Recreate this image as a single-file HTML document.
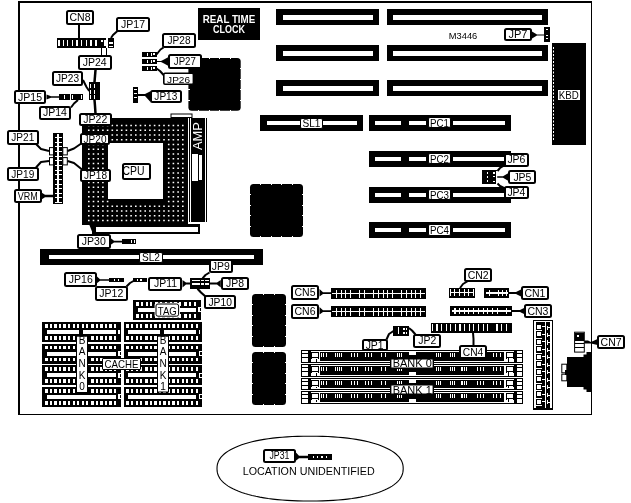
<!DOCTYPE html>
<html><head><meta charset="utf-8"><style>
html,body{margin:0;padding:0;background:#fff;}
svg{display:block;filter:grayscale(1);}
text{font-family:"Liberation Sans",sans-serif;}
</style></head><body>
<svg width="631" height="503" viewBox="0 0 631 503">

<rect width="631" height="503" fill="#fff"/>
<rect x="18" y="1" width="574" height="2" fill="#000" shape-rendering="crispEdges" />
<rect x="18" y="1" width="2" height="414" fill="#000" shape-rendering="crispEdges" />
<rect x="591" y="1" width="1" height="414" fill="#000" shape-rendering="crispEdges" />
<rect x="18" y="414" width="574" height="1" fill="#000" shape-rendering="crispEdges" />
<rect x="276" y="9" width="103" height="16" fill="#000" shape-rendering="crispEdges" />
<rect x="283" y="15" width="90" height="5" fill="#fff" shape-rendering="crispEdges" />
<rect x="387" y="9" width="161" height="16" fill="#000" shape-rendering="crispEdges" />
<rect x="393" y="15" width="149" height="5" fill="#fff" shape-rendering="crispEdges" />
<rect x="276" y="45" width="103" height="16" fill="#000" shape-rendering="crispEdges" />
<rect x="283" y="51" width="90" height="5" fill="#fff" shape-rendering="crispEdges" />
<rect x="387" y="45" width="161" height="16" fill="#000" shape-rendering="crispEdges" />
<rect x="393" y="51" width="149" height="5" fill="#fff" shape-rendering="crispEdges" />
<rect x="276" y="80" width="103" height="16" fill="#000" shape-rendering="crispEdges" />
<rect x="283" y="86" width="90" height="5" fill="#fff" shape-rendering="crispEdges" />
<rect x="387" y="80" width="161" height="16" fill="#000" shape-rendering="crispEdges" />
<rect x="393" y="86" width="149" height="5" fill="#fff" shape-rendering="crispEdges" />
<rect x="198" y="8" width="62" height="32" fill="#000" shape-rendering="crispEdges" />
<text x="229.00" y="22.80" font-size="10" text-anchor="middle" fill="#fff" font-weight="bold"   textLength="52.5" lengthAdjust="spacingAndGlyphs">REAL TIME</text>
<text x="229.00" y="32.60" font-size="10" text-anchor="middle" fill="#fff" font-weight="bold"   textLength="32" lengthAdjust="spacingAndGlyphs">CLOCK</text>
<rect x="552" y="43" width="34" height="102" fill="#000" shape-rendering="crispEdges" />
<line x1="553.5" y1="47" x2="553.5" y2="141" stroke="#fff" stroke-width="1" stroke-dasharray="2 1.5"/>
<rect x="558" y="90" width="22" height="10" fill="#fff" shape-rendering="crispEdges" />
<text x="568.75" y="98.50" font-size="11" text-anchor="middle" fill="#000" font-weight="normal"   textLength="20" lengthAdjust="spacingAndGlyphs">KBD</text>
<text x="463.00" y="38.80" font-size="9.3" text-anchor="middle" fill="#000" font-weight="normal"   textLength="28.5" lengthAdjust="spacingAndGlyphs">M3446</text>
<rect x="505.00" y="29.00" width="26.00" height="11.00" rx="1.5" fill="#fff" stroke="#000" stroke-width="2"/>
<text x="518.00" y="38.00" font-size="10.5" text-anchor="middle" fill="#000" font-weight="normal"   textLength="19" lengthAdjust="spacingAndGlyphs">JP7</text>
<polygon points="532,31.5 537,34.5 544,34.5 544,35.5 537,35.5 532,38.5" fill="#000"/>
<rect x="544" y="27" width="6" height="15" fill="#000" shape-rendering="crispEdges" />
<rect x="546" y="29" width="2" height="1" fill="#fff" shape-rendering="crispEdges" />
<rect x="546" y="35" width="2" height="1" fill="#fff" shape-rendering="crispEdges" />
<rect x="546" y="38" width="2" height="1" fill="#fff" shape-rendering="crispEdges" />
<rect x="188.4" y="58" width="52.29999999999998" height="52.7" rx="3.5" fill="#000"/>
<rect x="198" y="58" width="1" height="1" fill="#fff" shape-rendering="crispEdges" />
<rect x="198" y="110" width="1" height="1" fill="#fff" shape-rendering="crispEdges" />
<rect x="209" y="58" width="1" height="1" fill="#fff" shape-rendering="crispEdges" />
<rect x="209" y="110" width="1" height="1" fill="#fff" shape-rendering="crispEdges" />
<rect x="219" y="58" width="1" height="1" fill="#fff" shape-rendering="crispEdges" />
<rect x="219" y="110" width="1" height="1" fill="#fff" shape-rendering="crispEdges" />
<rect x="230" y="58" width="1" height="1" fill="#fff" shape-rendering="crispEdges" />
<rect x="230" y="110" width="1" height="1" fill="#fff" shape-rendering="crispEdges" />
<rect x="188" y="68" width="2" height="1" fill="#fff" shape-rendering="crispEdges" />
<rect x="240" y="68" width="1" height="1" fill="#fff" shape-rendering="crispEdges" />
<rect x="188" y="79" width="2" height="1" fill="#fff" shape-rendering="crispEdges" />
<rect x="240" y="79" width="1" height="1" fill="#fff" shape-rendering="crispEdges" />
<rect x="188" y="89" width="2" height="1" fill="#fff" shape-rendering="crispEdges" />
<rect x="240" y="89" width="1" height="1" fill="#fff" shape-rendering="crispEdges" />
<rect x="188" y="100" width="2" height="1" fill="#fff" shape-rendering="crispEdges" />
<rect x="240" y="100" width="1" height="1" fill="#fff" shape-rendering="crispEdges" />
<rect x="250" y="184" width="53" height="53" rx="3.5" fill="#000"/>
<rect x="260" y="184" width="1" height="1" fill="#fff" shape-rendering="crispEdges" />
<rect x="260" y="236" width="1" height="1" fill="#fff" shape-rendering="crispEdges" />
<rect x="271" y="184" width="1" height="1" fill="#fff" shape-rendering="crispEdges" />
<rect x="271" y="236" width="1" height="1" fill="#fff" shape-rendering="crispEdges" />
<rect x="281" y="184" width="1" height="1" fill="#fff" shape-rendering="crispEdges" />
<rect x="281" y="236" width="1" height="1" fill="#fff" shape-rendering="crispEdges" />
<rect x="292" y="184" width="1" height="1" fill="#fff" shape-rendering="crispEdges" />
<rect x="292" y="236" width="1" height="1" fill="#fff" shape-rendering="crispEdges" />
<rect x="250" y="194" width="1" height="1" fill="#fff" shape-rendering="crispEdges" />
<rect x="302" y="194" width="1" height="1" fill="#fff" shape-rendering="crispEdges" />
<rect x="250" y="205" width="1" height="1" fill="#fff" shape-rendering="crispEdges" />
<rect x="302" y="205" width="1" height="1" fill="#fff" shape-rendering="crispEdges" />
<rect x="250" y="215" width="1" height="1" fill="#fff" shape-rendering="crispEdges" />
<rect x="302" y="215" width="1" height="1" fill="#fff" shape-rendering="crispEdges" />
<rect x="250" y="226" width="1" height="1" fill="#fff" shape-rendering="crispEdges" />
<rect x="302" y="226" width="1" height="1" fill="#fff" shape-rendering="crispEdges" />
<rect x="252" y="294" width="34" height="53" rx="3.5" fill="#000"/>
<rect x="263" y="294" width="1" height="1" fill="#fff" shape-rendering="crispEdges" />
<rect x="263" y="346" width="1" height="1" fill="#fff" shape-rendering="crispEdges" />
<rect x="274" y="294" width="1" height="1" fill="#fff" shape-rendering="crispEdges" />
<rect x="274" y="346" width="1" height="1" fill="#fff" shape-rendering="crispEdges" />
<rect x="252" y="304" width="1" height="1" fill="#fff" shape-rendering="crispEdges" />
<rect x="285" y="304" width="1" height="1" fill="#fff" shape-rendering="crispEdges" />
<rect x="252" y="315" width="1" height="1" fill="#fff" shape-rendering="crispEdges" />
<rect x="285" y="315" width="1" height="1" fill="#fff" shape-rendering="crispEdges" />
<rect x="252" y="325" width="1" height="1" fill="#fff" shape-rendering="crispEdges" />
<rect x="285" y="325" width="1" height="1" fill="#fff" shape-rendering="crispEdges" />
<rect x="252" y="336" width="1" height="1" fill="#fff" shape-rendering="crispEdges" />
<rect x="285" y="336" width="1" height="1" fill="#fff" shape-rendering="crispEdges" />
<rect x="252" y="352" width="34" height="53" rx="3.5" fill="#000"/>
<rect x="263" y="352" width="1" height="1" fill="#fff" shape-rendering="crispEdges" />
<rect x="263" y="404" width="1" height="1" fill="#fff" shape-rendering="crispEdges" />
<rect x="274" y="352" width="1" height="1" fill="#fff" shape-rendering="crispEdges" />
<rect x="274" y="404" width="1" height="1" fill="#fff" shape-rendering="crispEdges" />
<rect x="252" y="362" width="1" height="1" fill="#fff" shape-rendering="crispEdges" />
<rect x="285" y="362" width="1" height="1" fill="#fff" shape-rendering="crispEdges" />
<rect x="252" y="373" width="1" height="1" fill="#fff" shape-rendering="crispEdges" />
<rect x="285" y="373" width="1" height="1" fill="#fff" shape-rendering="crispEdges" />
<rect x="252" y="383" width="1" height="1" fill="#fff" shape-rendering="crispEdges" />
<rect x="285" y="383" width="1" height="1" fill="#fff" shape-rendering="crispEdges" />
<rect x="252" y="394" width="1" height="1" fill="#fff" shape-rendering="crispEdges" />
<rect x="285" y="394" width="1" height="1" fill="#fff" shape-rendering="crispEdges" />
<rect x="82" y="118" width="106" height="107" fill="#000" shape-rendering="crispEdges" />
<path d="M88.0 124.7h1.6v1.6h-1.6zM88.0 129.4h1.6v1.6h-1.6zM88.0 134.2h1.6v1.6h-1.6zM88.0 138.9h1.6v1.6h-1.6zM88.0 143.7h1.6v1.6h-1.6zM88.0 148.4h1.6v1.6h-1.6zM88.0 153.2h1.6v1.6h-1.6zM88.0 157.9h1.6v1.6h-1.6zM88.0 162.7h1.6v1.6h-1.6zM88.0 167.4h1.6v1.6h-1.6zM88.0 172.2h1.6v1.6h-1.6zM88.0 176.9h1.6v1.6h-1.6zM88.0 181.7h1.6v1.6h-1.6zM88.0 186.4h1.6v1.6h-1.6zM88.0 191.2h1.6v1.6h-1.6zM88.0 195.9h1.6v1.6h-1.6zM88.0 200.7h1.6v1.6h-1.6zM88.0 205.4h1.6v1.6h-1.6zM88.0 210.2h1.6v1.6h-1.6zM88.0 214.9h1.6v1.6h-1.6zM88.0 219.7h1.6v1.6h-1.6zM92.7 124.7h1.6v1.6h-1.6zM92.7 129.4h1.6v1.6h-1.6zM92.7 134.2h1.6v1.6h-1.6zM92.7 138.9h1.6v1.6h-1.6zM92.7 143.7h1.6v1.6h-1.6zM92.7 148.4h1.6v1.6h-1.6zM92.7 153.2h1.6v1.6h-1.6zM92.7 157.9h1.6v1.6h-1.6zM92.7 162.7h1.6v1.6h-1.6zM92.7 167.4h1.6v1.6h-1.6zM92.7 172.2h1.6v1.6h-1.6zM92.7 176.9h1.6v1.6h-1.6zM92.7 181.7h1.6v1.6h-1.6zM92.7 186.4h1.6v1.6h-1.6zM92.7 191.2h1.6v1.6h-1.6zM92.7 195.9h1.6v1.6h-1.6zM92.7 200.7h1.6v1.6h-1.6zM92.7 205.4h1.6v1.6h-1.6zM92.7 210.2h1.6v1.6h-1.6zM92.7 214.9h1.6v1.6h-1.6zM92.7 219.7h1.6v1.6h-1.6zM97.4 124.7h1.6v1.6h-1.6zM97.4 129.4h1.6v1.6h-1.6zM97.4 134.2h1.6v1.6h-1.6zM97.4 138.9h1.6v1.6h-1.6zM97.4 143.7h1.6v1.6h-1.6zM97.4 148.4h1.6v1.6h-1.6zM97.4 153.2h1.6v1.6h-1.6zM97.4 157.9h1.6v1.6h-1.6zM97.4 162.7h1.6v1.6h-1.6zM97.4 167.4h1.6v1.6h-1.6zM97.4 172.2h1.6v1.6h-1.6zM97.4 176.9h1.6v1.6h-1.6zM97.4 181.7h1.6v1.6h-1.6zM97.4 186.4h1.6v1.6h-1.6zM97.4 191.2h1.6v1.6h-1.6zM97.4 195.9h1.6v1.6h-1.6zM97.4 200.7h1.6v1.6h-1.6zM97.4 205.4h1.6v1.6h-1.6zM97.4 210.2h1.6v1.6h-1.6zM97.4 214.9h1.6v1.6h-1.6zM97.4 219.7h1.6v1.6h-1.6zM102.1 124.7h1.6v1.6h-1.6zM102.1 129.4h1.6v1.6h-1.6zM102.1 134.2h1.6v1.6h-1.6zM102.1 138.9h1.6v1.6h-1.6zM102.1 143.7h1.6v1.6h-1.6zM102.1 148.4h1.6v1.6h-1.6zM102.1 153.2h1.6v1.6h-1.6zM102.1 157.9h1.6v1.6h-1.6zM102.1 162.7h1.6v1.6h-1.6zM102.1 167.4h1.6v1.6h-1.6zM102.1 172.2h1.6v1.6h-1.6zM102.1 176.9h1.6v1.6h-1.6zM102.1 181.7h1.6v1.6h-1.6zM102.1 186.4h1.6v1.6h-1.6zM102.1 191.2h1.6v1.6h-1.6zM102.1 195.9h1.6v1.6h-1.6zM102.1 200.7h1.6v1.6h-1.6zM102.1 205.4h1.6v1.6h-1.6zM102.1 210.2h1.6v1.6h-1.6zM102.1 214.9h1.6v1.6h-1.6zM102.1 219.7h1.6v1.6h-1.6zM106.8 124.7h1.6v1.6h-1.6zM106.8 129.4h1.6v1.6h-1.6zM106.8 134.2h1.6v1.6h-1.6zM106.8 138.9h1.6v1.6h-1.6zM106.8 200.7h1.6v1.6h-1.6zM106.8 205.4h1.6v1.6h-1.6zM106.8 210.2h1.6v1.6h-1.6zM106.8 214.9h1.6v1.6h-1.6zM106.8 219.7h1.6v1.6h-1.6zM111.5 124.7h1.6v1.6h-1.6zM111.5 129.4h1.6v1.6h-1.6zM111.5 134.2h1.6v1.6h-1.6zM111.5 138.9h1.6v1.6h-1.6zM111.5 205.4h1.6v1.6h-1.6zM111.5 210.2h1.6v1.6h-1.6zM111.5 214.9h1.6v1.6h-1.6zM111.5 219.7h1.6v1.6h-1.6zM116.2 124.7h1.6v1.6h-1.6zM116.2 129.4h1.6v1.6h-1.6zM116.2 134.2h1.6v1.6h-1.6zM116.2 138.9h1.6v1.6h-1.6zM116.2 205.4h1.6v1.6h-1.6zM116.2 210.2h1.6v1.6h-1.6zM116.2 214.9h1.6v1.6h-1.6zM116.2 219.7h1.6v1.6h-1.6zM120.9 124.7h1.6v1.6h-1.6zM120.9 129.4h1.6v1.6h-1.6zM120.9 134.2h1.6v1.6h-1.6zM120.9 138.9h1.6v1.6h-1.6zM120.9 205.4h1.6v1.6h-1.6zM120.9 210.2h1.6v1.6h-1.6zM120.9 214.9h1.6v1.6h-1.6zM120.9 219.7h1.6v1.6h-1.6zM125.6 124.7h1.6v1.6h-1.6zM125.6 129.4h1.6v1.6h-1.6zM125.6 134.2h1.6v1.6h-1.6zM125.6 138.9h1.6v1.6h-1.6zM125.6 205.4h1.6v1.6h-1.6zM125.6 210.2h1.6v1.6h-1.6zM125.6 214.9h1.6v1.6h-1.6zM125.6 219.7h1.6v1.6h-1.6zM130.3 124.7h1.6v1.6h-1.6zM130.3 129.4h1.6v1.6h-1.6zM130.3 134.2h1.6v1.6h-1.6zM130.3 138.9h1.6v1.6h-1.6zM130.3 205.4h1.6v1.6h-1.6zM130.3 210.2h1.6v1.6h-1.6zM130.3 214.9h1.6v1.6h-1.6zM130.3 219.7h1.6v1.6h-1.6zM135.0 124.7h1.6v1.6h-1.6zM135.0 129.4h1.6v1.6h-1.6zM135.0 134.2h1.6v1.6h-1.6zM135.0 138.9h1.6v1.6h-1.6zM135.0 205.4h1.6v1.6h-1.6zM135.0 210.2h1.6v1.6h-1.6zM135.0 214.9h1.6v1.6h-1.6zM135.0 219.7h1.6v1.6h-1.6zM139.7 124.7h1.6v1.6h-1.6zM139.7 129.4h1.6v1.6h-1.6zM139.7 134.2h1.6v1.6h-1.6zM139.7 138.9h1.6v1.6h-1.6zM139.7 205.4h1.6v1.6h-1.6zM139.7 210.2h1.6v1.6h-1.6zM139.7 214.9h1.6v1.6h-1.6zM139.7 219.7h1.6v1.6h-1.6zM144.4 124.7h1.6v1.6h-1.6zM144.4 129.4h1.6v1.6h-1.6zM144.4 134.2h1.6v1.6h-1.6zM144.4 138.9h1.6v1.6h-1.6zM144.4 205.4h1.6v1.6h-1.6zM144.4 210.2h1.6v1.6h-1.6zM144.4 214.9h1.6v1.6h-1.6zM144.4 219.7h1.6v1.6h-1.6zM149.1 124.7h1.6v1.6h-1.6zM149.1 129.4h1.6v1.6h-1.6zM149.1 134.2h1.6v1.6h-1.6zM149.1 138.9h1.6v1.6h-1.6zM149.1 205.4h1.6v1.6h-1.6zM149.1 210.2h1.6v1.6h-1.6zM149.1 214.9h1.6v1.6h-1.6zM149.1 219.7h1.6v1.6h-1.6zM153.8 124.7h1.6v1.6h-1.6zM153.8 129.4h1.6v1.6h-1.6zM153.8 134.2h1.6v1.6h-1.6zM153.8 138.9h1.6v1.6h-1.6zM153.8 205.4h1.6v1.6h-1.6zM153.8 210.2h1.6v1.6h-1.6zM153.8 214.9h1.6v1.6h-1.6zM153.8 219.7h1.6v1.6h-1.6zM158.5 124.7h1.6v1.6h-1.6zM158.5 129.4h1.6v1.6h-1.6zM158.5 134.2h1.6v1.6h-1.6zM158.5 138.9h1.6v1.6h-1.6zM158.5 205.4h1.6v1.6h-1.6zM158.5 210.2h1.6v1.6h-1.6zM158.5 214.9h1.6v1.6h-1.6zM158.5 219.7h1.6v1.6h-1.6zM163.2 124.7h1.6v1.6h-1.6zM163.2 129.4h1.6v1.6h-1.6zM163.2 134.2h1.6v1.6h-1.6zM163.2 138.9h1.6v1.6h-1.6zM163.2 205.4h1.6v1.6h-1.6zM163.2 210.2h1.6v1.6h-1.6zM163.2 214.9h1.6v1.6h-1.6zM163.2 219.7h1.6v1.6h-1.6zM167.9 124.7h1.6v1.6h-1.6zM167.9 129.4h1.6v1.6h-1.6zM167.9 134.2h1.6v1.6h-1.6zM167.9 138.9h1.6v1.6h-1.6zM167.9 143.7h1.6v1.6h-1.6zM167.9 148.4h1.6v1.6h-1.6zM167.9 153.2h1.6v1.6h-1.6zM167.9 157.9h1.6v1.6h-1.6zM167.9 162.7h1.6v1.6h-1.6zM167.9 167.4h1.6v1.6h-1.6zM167.9 172.2h1.6v1.6h-1.6zM167.9 176.9h1.6v1.6h-1.6zM167.9 181.7h1.6v1.6h-1.6zM167.9 186.4h1.6v1.6h-1.6zM167.9 191.2h1.6v1.6h-1.6zM167.9 195.9h1.6v1.6h-1.6zM167.9 200.7h1.6v1.6h-1.6zM167.9 205.4h1.6v1.6h-1.6zM167.9 210.2h1.6v1.6h-1.6zM167.9 214.9h1.6v1.6h-1.6zM167.9 219.7h1.6v1.6h-1.6zM172.6 124.7h1.6v1.6h-1.6zM172.6 129.4h1.6v1.6h-1.6zM172.6 134.2h1.6v1.6h-1.6zM172.6 138.9h1.6v1.6h-1.6zM172.6 143.7h1.6v1.6h-1.6zM172.6 148.4h1.6v1.6h-1.6zM172.6 153.2h1.6v1.6h-1.6zM172.6 157.9h1.6v1.6h-1.6zM172.6 162.7h1.6v1.6h-1.6zM172.6 167.4h1.6v1.6h-1.6zM172.6 172.2h1.6v1.6h-1.6zM172.6 176.9h1.6v1.6h-1.6zM172.6 181.7h1.6v1.6h-1.6zM172.6 186.4h1.6v1.6h-1.6zM172.6 191.2h1.6v1.6h-1.6zM172.6 195.9h1.6v1.6h-1.6zM172.6 200.7h1.6v1.6h-1.6zM172.6 205.4h1.6v1.6h-1.6zM172.6 210.2h1.6v1.6h-1.6zM172.6 214.9h1.6v1.6h-1.6zM172.6 219.7h1.6v1.6h-1.6zM177.3 124.7h1.6v1.6h-1.6zM177.3 129.4h1.6v1.6h-1.6zM177.3 134.2h1.6v1.6h-1.6zM177.3 138.9h1.6v1.6h-1.6zM177.3 143.7h1.6v1.6h-1.6zM177.3 148.4h1.6v1.6h-1.6zM177.3 153.2h1.6v1.6h-1.6zM177.3 157.9h1.6v1.6h-1.6zM177.3 162.7h1.6v1.6h-1.6zM177.3 167.4h1.6v1.6h-1.6zM177.3 172.2h1.6v1.6h-1.6zM177.3 176.9h1.6v1.6h-1.6zM177.3 181.7h1.6v1.6h-1.6zM177.3 186.4h1.6v1.6h-1.6zM177.3 191.2h1.6v1.6h-1.6zM177.3 195.9h1.6v1.6h-1.6zM177.3 200.7h1.6v1.6h-1.6zM177.3 205.4h1.6v1.6h-1.6zM177.3 210.2h1.6v1.6h-1.6zM177.3 214.9h1.6v1.6h-1.6zM177.3 219.7h1.6v1.6h-1.6zM182.0 124.7h1.6v1.6h-1.6zM182.0 129.4h1.6v1.6h-1.6zM182.0 134.2h1.6v1.6h-1.6zM182.0 138.9h1.6v1.6h-1.6zM182.0 143.7h1.6v1.6h-1.6zM182.0 148.4h1.6v1.6h-1.6zM182.0 153.2h1.6v1.6h-1.6zM182.0 157.9h1.6v1.6h-1.6zM182.0 162.7h1.6v1.6h-1.6zM182.0 167.4h1.6v1.6h-1.6zM182.0 172.2h1.6v1.6h-1.6zM182.0 176.9h1.6v1.6h-1.6zM182.0 181.7h1.6v1.6h-1.6zM182.0 186.4h1.6v1.6h-1.6zM182.0 191.2h1.6v1.6h-1.6zM182.0 195.9h1.6v1.6h-1.6zM182.0 200.7h1.6v1.6h-1.6zM182.0 205.4h1.6v1.6h-1.6zM182.0 210.2h1.6v1.6h-1.6zM182.0 214.9h1.6v1.6h-1.6zM182.0 219.7h1.6v1.6h-1.6z" fill="#fff"/>
<rect x="108" y="143" width="55" height="56" fill="#fff" shape-rendering="crispEdges" />
<rect x="123.00" y="164.00" width="27.00" height="15.00" rx="1.5" fill="#fff" stroke="#000" stroke-width="2"/>
<text x="133.50" y="175.00" font-size="12" text-anchor="middle" fill="#000" font-weight="normal"   textLength="22" lengthAdjust="spacingAndGlyphs">CPU</text>
<rect x="188" y="118" width="1" height="104" fill="#fff" shape-rendering="crispEdges" />
<rect x="190" y="118" width="1" height="104" fill="#fff" shape-rendering="crispEdges" />
<rect x="205" y="118" width="1" height="104" fill="#fff" shape-rendering="crispEdges" />
<rect x="189" y="118" width="1" height="104" fill="#000" shape-rendering="crispEdges" />
<rect x="191" y="118" width="14" height="104" fill="#000" shape-rendering="crispEdges" />
<rect x="206" y="118" width="1" height="104" fill="#000" shape-rendering="crispEdges" />
<text x="0.00" y="0.00" font-size="12" text-anchor="middle" fill="#fff" font-weight="normal"  transform="translate(201.5,136) rotate(-90)" textLength="28" lengthAdjust="spacingAndGlyphs">AMP</text>
<rect x="192" y="154" width="6" height="27" fill="#fff" shape-rendering="crispEdges" />
<rect x="199" y="155" width="3" height="25" fill="#fff" shape-rendering="crispEdges" />
<rect x="171" y="114" width="21" height="3.5" fill="#fff" stroke="#000" stroke-width="1"/>
<rect x="92" y="224" width="108" height="10" fill="#000" shape-rendering="crispEdges" />
<rect x="96" y="227" width="102" height="5" fill="#fff" shape-rendering="crispEdges" />
<rect x="260" y="115" width="103" height="16" fill="#000" shape-rendering="crispEdges" />
<rect x="267" y="121" width="90" height="4" fill="#fff" shape-rendering="crispEdges" />
<rect x="300.50" y="118.50" width="22.00" height="10.00" rx="1.5" fill="#fff" stroke="#000" stroke-width="1"/>
<text x="311.50" y="127.00" font-size="11" text-anchor="middle" fill="#000" font-weight="normal"   textLength="18" lengthAdjust="spacingAndGlyphs">SL1</text>
<rect x="369" y="115" width="142" height="16" fill="#000" shape-rendering="crispEdges" />
<rect x="375" y="121" width="26" height="4" fill="#fff" shape-rendering="crispEdges" />
<rect x="409" y="121" width="17" height="4" fill="#fff" shape-rendering="crispEdges" />
<rect x="453" y="121" width="52" height="4" fill="#fff" shape-rendering="crispEdges" />
<rect x="428.50" y="117.50" width="22.00" height="10.00" rx="1.5" fill="#fff" stroke="#000" stroke-width="1"/>
<text x="439.50" y="127.00" font-size="11" text-anchor="middle" fill="#000" font-weight="normal"   textLength="19" lengthAdjust="spacingAndGlyphs">PC1</text>
<rect x="369" y="151" width="142" height="16" fill="#000" shape-rendering="crispEdges" />
<rect x="375" y="157" width="26" height="4" fill="#fff" shape-rendering="crispEdges" />
<rect x="409" y="157" width="17" height="4" fill="#fff" shape-rendering="crispEdges" />
<rect x="453" y="157" width="52" height="4" fill="#fff" shape-rendering="crispEdges" />
<rect x="428.50" y="153.50" width="22.00" height="10.00" rx="1.5" fill="#fff" stroke="#000" stroke-width="1"/>
<text x="439.50" y="163.00" font-size="11" text-anchor="middle" fill="#000" font-weight="normal"   textLength="19" lengthAdjust="spacingAndGlyphs">PC2</text>
<rect x="369" y="187" width="142" height="16" fill="#000" shape-rendering="crispEdges" />
<rect x="375" y="193" width="26" height="4" fill="#fff" shape-rendering="crispEdges" />
<rect x="409" y="193" width="17" height="4" fill="#fff" shape-rendering="crispEdges" />
<rect x="453" y="193" width="52" height="4" fill="#fff" shape-rendering="crispEdges" />
<rect x="428.50" y="189.50" width="22.00" height="10.00" rx="1.5" fill="#fff" stroke="#000" stroke-width="1"/>
<text x="439.50" y="199.00" font-size="11" text-anchor="middle" fill="#000" font-weight="normal"   textLength="19" lengthAdjust="spacingAndGlyphs">PC3</text>
<rect x="369" y="222" width="142" height="16" fill="#000" shape-rendering="crispEdges" />
<rect x="375" y="228" width="26" height="4" fill="#fff" shape-rendering="crispEdges" />
<rect x="409" y="228" width="17" height="4" fill="#fff" shape-rendering="crispEdges" />
<rect x="453" y="228" width="52" height="4" fill="#fff" shape-rendering="crispEdges" />
<rect x="428.50" y="224.50" width="22.00" height="11.00" rx="1.5" fill="#fff" stroke="#000" stroke-width="1"/>
<text x="439.50" y="234.00" font-size="11" text-anchor="middle" fill="#000" font-weight="normal"   textLength="19" lengthAdjust="spacingAndGlyphs">PC4</text>
<rect x="40" y="249" width="223" height="16" fill="#000" shape-rendering="crispEdges" />
<rect x="49" y="255" width="205" height="4" fill="#fff" shape-rendering="crispEdges" />
<rect x="139.50" y="252.50" width="23.00" height="10.00" rx="1.5" fill="#fff" stroke="#000" stroke-width="1"/>
<text x="151.00" y="261.00" font-size="11" text-anchor="middle" fill="#000" font-weight="normal"   textLength="18" lengthAdjust="spacingAndGlyphs">SL2</text>
<rect x="482" y="170" width="15" height="14" fill="#000" shape-rendering="crispEdges" />
<rect x="487" y="172" width="1" height="2" fill="#fff" shape-rendering="crispEdges" />
<rect x="487" y="176" width="1" height="2" fill="#fff" shape-rendering="crispEdges" />
<rect x="487" y="180" width="1" height="2" fill="#fff" shape-rendering="crispEdges" />
<rect x="493" y="172" width="2" height="2" fill="#fff" shape-rendering="crispEdges" />
<rect x="493" y="176" width="2" height="1" fill="#fff" shape-rendering="crispEdges" />
<rect x="493" y="181" width="2" height="1" fill="#fff" shape-rendering="crispEdges" />
<rect x="496" y="171" width="1" height="13" fill="#fff" shape-rendering="crispEdges" />
<polyline points="497.5,171 500,168 505,165" fill="none" stroke="#000" stroke-width="2" stroke-linejoin="round"/>
<polyline points="497.5,183.5 500,186 505,188.5" fill="none" stroke="#000" stroke-width="2" stroke-linejoin="round"/>
<polygon points="497.2,176.2 503,176.2 508.5,173 508.5,181 503,177.8 497.2,177.8" fill="#000"/>
<rect x="57" y="38" width="49" height="10" fill="#000" shape-rendering="crispEdges" />
<rect x="58" y="40" width="2" height="6" fill="#fff" shape-rendering="crispEdges" />
<rect x="63" y="40" width="1" height="6" fill="#fff" shape-rendering="crispEdges" />
<rect x="67" y="40" width="1" height="6" fill="#fff" shape-rendering="crispEdges" />
<rect x="72" y="40" width="1" height="6" fill="#fff" shape-rendering="crispEdges" />
<rect x="76" y="40" width="2" height="6" fill="#fff" shape-rendering="crispEdges" />
<rect x="81" y="40" width="1" height="6" fill="#fff" shape-rendering="crispEdges" />
<rect x="86" y="40" width="1" height="6" fill="#fff" shape-rendering="crispEdges" />
<rect x="90" y="40" width="2" height="6" fill="#fff" shape-rendering="crispEdges" />
<rect x="95" y="40" width="2" height="6" fill="#fff" shape-rendering="crispEdges" />
<rect x="104" y="40" width="2" height="6" fill="#fff" shape-rendering="crispEdges" />
<rect x="101" y="40" width="2" height="2" fill="#fff" shape-rendering="crispEdges" />
<rect x="78" y="25" width="2" height="13" fill="#000" shape-rendering="crispEdges" />
<rect x="108" y="38" width="6" height="10" fill="#000" shape-rendering="crispEdges" />
<rect x="109" y="42" width="4" height="2" fill="#fff" shape-rendering="crispEdges" />
<rect x="109" y="46" width="4" height="1" fill="#fff" shape-rendering="crispEdges" />
<polyline points="111,38 113,35 118,30.5" fill="none" stroke="#000" stroke-width="2" stroke-linejoin="round"/>
<rect x="101" y="48" width="1" height="8" fill="#000" shape-rendering="crispEdges" />
<rect x="106" y="48" width="1" height="8" fill="#000" shape-rendering="crispEdges" />
<rect x="89" y="82" width="11" height="18" fill="#000" shape-rendering="crispEdges" />
<rect x="90" y="84" width="1" height="4" fill="#fff" shape-rendering="crispEdges" />
<rect x="94" y="84" width="1" height="4" fill="#fff" shape-rendering="crispEdges" />
<rect x="90" y="90" width="1" height="4" fill="#fff" shape-rendering="crispEdges" />
<rect x="94" y="90" width="1" height="4" fill="#fff" shape-rendering="crispEdges" />
<rect x="90" y="95" width="1" height="4" fill="#fff" shape-rendering="crispEdges" />
<rect x="94" y="95" width="1" height="4" fill="#fff" shape-rendering="crispEdges" />
<polyline points="95.5,70 95,76 94.5,82" fill="none" stroke="#000" stroke-width="2.5" stroke-linejoin="round"/>
<polyline points="94.5,99.8 95,106 95.5,113.6" fill="none" stroke="#000" stroke-width="2.5" stroke-linejoin="round"/>
<polyline points="83,80 86.5,87 89.2,91" fill="none" stroke="#000" stroke-width="2" stroke-linejoin="round"/>
<rect x="59" y="94" width="24" height="6" fill="#000" shape-rendering="crispEdges" />
<rect x="70" y="94" width="1" height="6" fill="#fff" shape-rendering="crispEdges" />
<rect x="64" y="95" width="1" height="4" fill="#fff" shape-rendering="crispEdges" />
<rect x="72" y="95" width="1" height="4" fill="#fff" shape-rendering="crispEdges" />
<rect x="81" y="95" width="1" height="4" fill="#fff" shape-rendering="crispEdges" />
<polygon points="46.5,94.5 51,96.3 59,96.3 59,97.7 51,97.7 46.5,99.5" fill="#000"/>
<polyline points="71,107.5 74,103.5 78,100" fill="none" stroke="#000" stroke-width="2" stroke-linejoin="round"/>
<rect x="53" y="133" width="10" height="71" fill="#000" shape-rendering="crispEdges" />
<rect x="57" y="134" width="2" height="69" fill="#fff" shape-rendering="crispEdges" />
<rect x="55" y="137" width="7" height="1" fill="#fff" shape-rendering="crispEdges" />
<rect x="55" y="142" width="7" height="1" fill="#fff" shape-rendering="crispEdges" />
<rect x="55" y="146" width="7" height="1" fill="#fff" shape-rendering="crispEdges" />
<rect x="55" y="151" width="7" height="1" fill="#fff" shape-rendering="crispEdges" />
<rect x="55" y="156" width="7" height="1" fill="#fff" shape-rendering="crispEdges" />
<rect x="55" y="160" width="7" height="1" fill="#fff" shape-rendering="crispEdges" />
<rect x="55" y="165" width="7" height="1" fill="#fff" shape-rendering="crispEdges" />
<rect x="55" y="170" width="7" height="1" fill="#fff" shape-rendering="crispEdges" />
<rect x="55" y="174" width="7" height="1" fill="#fff" shape-rendering="crispEdges" />
<rect x="55" y="179" width="7" height="1" fill="#fff" shape-rendering="crispEdges" />
<rect x="55" y="184" width="7" height="1" fill="#fff" shape-rendering="crispEdges" />
<rect x="55" y="188" width="7" height="1" fill="#fff" shape-rendering="crispEdges" />
<rect x="55" y="193" width="7" height="1" fill="#fff" shape-rendering="crispEdges" />
<rect x="55" y="197" width="7" height="1" fill="#fff" shape-rendering="crispEdges" />
<rect x="55" y="202" width="7" height="1" fill="#fff" shape-rendering="crispEdges" />
<rect x="49.5" y="147.6" width="4" height="7.300000000000011" fill="#fff" stroke="#000" stroke-width="1"/>
<rect x="62.8" y="147.6" width="4.5" height="7.300000000000011" fill="#fff" stroke="#000" stroke-width="1"/>
<rect x="49.5" y="157.6" width="4" height="7.300000000000011" fill="#fff" stroke="#000" stroke-width="1"/>
<rect x="62.8" y="157.6" width="4.5" height="7.300000000000011" fill="#fff" stroke="#000" stroke-width="1"/>
<polyline points="36,144 41,149 49,151" fill="none" stroke="#000" stroke-width="2" stroke-linejoin="round"/>
<polyline points="36,167.5 41,162 49,161" fill="none" stroke="#000" stroke-width="2" stroke-linejoin="round"/>
<polyline points="82,143 74,148.5 67.5,151" fill="none" stroke="#000" stroke-width="2" stroke-linejoin="round"/>
<polyline points="82,169.5 74,163 67.5,161" fill="none" stroke="#000" stroke-width="2" stroke-linejoin="round"/>
<polygon points="41.5,192.5 45,194.8 53,194.8 53,197.2 45,197.2 41.5,199.5" fill="#000"/>
<rect x="122" y="239" width="14" height="5" fill="#000" shape-rendering="crispEdges" />
<rect x="131" y="240" width="1" height="3" fill="#fff" shape-rendering="crispEdges" />
<rect x="134" y="240" width="1" height="3" fill="#fff" shape-rendering="crispEdges" />
<polygon points="110.5,238 114,240.8 122,240.8 122,242.6 114,242.6 110.5,245" fill="#000"/>
<polygon points="89,224 93,224 97,234 93,234" fill="#000"/>
<rect x="142" y="52" width="15" height="5" fill="#000" shape-rendering="crispEdges" />
<rect x="147" y="53" width="1" height="3" fill="#fff" shape-rendering="crispEdges" />
<rect x="151" y="53" width="1" height="3" fill="#fff" shape-rendering="crispEdges" />
<rect x="153" y="53" width="2" height="2" fill="#fff" shape-rendering="crispEdges" />
<rect x="142" y="59" width="15" height="5" fill="#000" shape-rendering="crispEdges" />
<rect x="147" y="60" width="1" height="3" fill="#fff" shape-rendering="crispEdges" />
<rect x="151" y="60" width="1" height="3" fill="#fff" shape-rendering="crispEdges" />
<rect x="153" y="60" width="2" height="2" fill="#fff" shape-rendering="crispEdges" />
<rect x="142" y="66" width="15" height="5" fill="#000" shape-rendering="crispEdges" />
<rect x="147" y="67" width="1" height="3" fill="#fff" shape-rendering="crispEdges" />
<rect x="151" y="67" width="1" height="3" fill="#fff" shape-rendering="crispEdges" />
<rect x="153" y="67" width="2" height="2" fill="#fff" shape-rendering="crispEdges" />
<polyline points="156.5,54.5 160.5,49.5 163.5,47.5" fill="none" stroke="#000" stroke-width="2" stroke-linejoin="round"/>
<rect x="157" y="61" width="4" height="1" fill="#000" shape-rendering="crispEdges" />
<polygon points="160,61.5 164,59.5 168.5,57 168.5,66 164,63.5" fill="#000"/>
<polyline points="156.5,68.5 160,71 164,75.5" fill="none" stroke="#000" stroke-width="2" stroke-linejoin="round"/>
<rect x="133" y="87" width="5" height="16" fill="#000" shape-rendering="crispEdges" />
<rect x="134" y="89" width="3" height="1" fill="#fff" shape-rendering="crispEdges" />
<rect x="134" y="93" width="3" height="1" fill="#fff" shape-rendering="crispEdges" />
<rect x="134" y="97" width="3" height="1" fill="#fff" shape-rendering="crispEdges" />
<polygon points="138,94 145,94 150,91.5 150,101.5 145,96 138,96" fill="#000"/>
<rect x="109" y="278" width="15" height="4" fill="#000" shape-rendering="crispEdges" />
<rect x="114" y="279" width="1" height="2" fill="#fff" shape-rendering="crispEdges" />
<rect x="118" y="279" width="1" height="2" fill="#fff" shape-rendering="crispEdges" />
<polygon points="96.5,276 100,279.2 109,279.2 109,280.8 100,280.8 96.5,283.5" fill="#000"/>
<rect x="133" y="278" width="14" height="4" fill="#000" shape-rendering="crispEdges" />
<rect x="137" y="279" width="1" height="2" fill="#fff" shape-rendering="crispEdges" />
<rect x="140" y="279" width="2" height="2" fill="#fff" shape-rendering="crispEdges" />
<polyline points="126.5,286.5 130,283 133.5,281" fill="none" stroke="#000" stroke-width="2" stroke-linejoin="round"/>
<rect x="190" y="278" width="20" height="11" fill="#000" shape-rendering="crispEdges" />
<rect x="192" y="280" width="4" height="1" fill="#fff" shape-rendering="crispEdges" />
<rect x="192" y="283" width="4" height="2" fill="#fff" shape-rendering="crispEdges" />
<rect x="196" y="280" width="4" height="1" fill="#fff" shape-rendering="crispEdges" />
<rect x="196" y="283" width="4" height="2" fill="#fff" shape-rendering="crispEdges" />
<rect x="201" y="280" width="3" height="1" fill="#fff" shape-rendering="crispEdges" />
<rect x="201" y="283" width="3" height="2" fill="#fff" shape-rendering="crispEdges" />
<rect x="205" y="280" width="4" height="1" fill="#fff" shape-rendering="crispEdges" />
<rect x="205" y="283" width="4" height="2" fill="#fff" shape-rendering="crispEdges" />
<polygon points="182.5,280 186,282.6 190,282.6 190,284.4 186,284.4 182.5,287.5" fill="#000"/>
<polygon points="220.8,280 217,282.6 209.9,282.6 209.9,284.4 217,284.4 220.8,287.5" fill="#000"/>
<polyline points="202.5,278.3 205.5,275 209.5,272.5" fill="none" stroke="#000" stroke-width="2" stroke-linejoin="round"/>
<polyline points="197.5,288.8 201,292.5 205.5,296.5" fill="none" stroke="#000" stroke-width="2.2" stroke-linejoin="round"/>
<rect x="42" y="322" width="79" height="20" fill="#000" shape-rendering="crispEdges" />
<rect x="45" y="324" width="3" height="4" fill="#fff" shape-rendering="crispEdges" />
<rect x="45" y="336" width="3" height="4" fill="#fff" shape-rendering="crispEdges" />
<rect x="50" y="324" width="2" height="4" fill="#fff" shape-rendering="crispEdges" />
<rect x="50" y="336" width="2" height="4" fill="#fff" shape-rendering="crispEdges" />
<rect x="54" y="324" width="3" height="4" fill="#fff" shape-rendering="crispEdges" />
<rect x="54" y="336" width="3" height="4" fill="#fff" shape-rendering="crispEdges" />
<rect x="59" y="324" width="2" height="4" fill="#fff" shape-rendering="crispEdges" />
<rect x="59" y="336" width="2" height="4" fill="#fff" shape-rendering="crispEdges" />
<rect x="63" y="324" width="3" height="4" fill="#fff" shape-rendering="crispEdges" />
<rect x="63" y="336" width="3" height="4" fill="#fff" shape-rendering="crispEdges" />
<rect x="68" y="324" width="2" height="4" fill="#fff" shape-rendering="crispEdges" />
<rect x="68" y="336" width="2" height="4" fill="#fff" shape-rendering="crispEdges" />
<rect x="73" y="324" width="2" height="4" fill="#fff" shape-rendering="crispEdges" />
<rect x="73" y="336" width="2" height="4" fill="#fff" shape-rendering="crispEdges" />
<rect x="77" y="324" width="2" height="4" fill="#fff" shape-rendering="crispEdges" />
<rect x="77" y="336" width="2" height="4" fill="#fff" shape-rendering="crispEdges" />
<rect x="82" y="324" width="2" height="4" fill="#fff" shape-rendering="crispEdges" />
<rect x="82" y="336" width="2" height="4" fill="#fff" shape-rendering="crispEdges" />
<rect x="86" y="324" width="2" height="4" fill="#fff" shape-rendering="crispEdges" />
<rect x="86" y="336" width="2" height="4" fill="#fff" shape-rendering="crispEdges" />
<rect x="91" y="324" width="3" height="4" fill="#fff" shape-rendering="crispEdges" />
<rect x="91" y="336" width="3" height="4" fill="#fff" shape-rendering="crispEdges" />
<rect x="96" y="324" width="2" height="4" fill="#fff" shape-rendering="crispEdges" />
<rect x="96" y="336" width="2" height="4" fill="#fff" shape-rendering="crispEdges" />
<rect x="100" y="324" width="3" height="4" fill="#fff" shape-rendering="crispEdges" />
<rect x="100" y="336" width="3" height="4" fill="#fff" shape-rendering="crispEdges" />
<rect x="105" y="324" width="2" height="4" fill="#fff" shape-rendering="crispEdges" />
<rect x="105" y="336" width="2" height="4" fill="#fff" shape-rendering="crispEdges" />
<rect x="109" y="324" width="3" height="4" fill="#fff" shape-rendering="crispEdges" />
<rect x="109" y="336" width="3" height="4" fill="#fff" shape-rendering="crispEdges" />
<rect x="114" y="324" width="2" height="4" fill="#fff" shape-rendering="crispEdges" />
<rect x="114" y="336" width="2" height="4" fill="#fff" shape-rendering="crispEdges" />
<rect x="47" y="330" width="69" height="4" fill="#fff" shape-rendering="crispEdges" />
<rect x="118" y="330" width="3" height="4" fill="#fff" shape-rendering="crispEdges" />
<rect x="120" y="330" width="1" height="4" fill="#000" shape-rendering="crispEdges" />
<rect x="124" y="322" width="78" height="20" fill="#000" shape-rendering="crispEdges" />
<rect x="126" y="324" width="3" height="4" fill="#fff" shape-rendering="crispEdges" />
<rect x="126" y="336" width="3" height="4" fill="#fff" shape-rendering="crispEdges" />
<rect x="131" y="324" width="2" height="4" fill="#fff" shape-rendering="crispEdges" />
<rect x="131" y="336" width="2" height="4" fill="#fff" shape-rendering="crispEdges" />
<rect x="136" y="324" width="2" height="4" fill="#fff" shape-rendering="crispEdges" />
<rect x="136" y="336" width="2" height="4" fill="#fff" shape-rendering="crispEdges" />
<rect x="140" y="324" width="2" height="4" fill="#fff" shape-rendering="crispEdges" />
<rect x="140" y="336" width="2" height="4" fill="#fff" shape-rendering="crispEdges" />
<rect x="145" y="324" width="3" height="4" fill="#fff" shape-rendering="crispEdges" />
<rect x="145" y="336" width="3" height="4" fill="#fff" shape-rendering="crispEdges" />
<rect x="150" y="324" width="2" height="4" fill="#fff" shape-rendering="crispEdges" />
<rect x="150" y="336" width="2" height="4" fill="#fff" shape-rendering="crispEdges" />
<rect x="154" y="324" width="3" height="4" fill="#fff" shape-rendering="crispEdges" />
<rect x="154" y="336" width="3" height="4" fill="#fff" shape-rendering="crispEdges" />
<rect x="159" y="324" width="2" height="4" fill="#fff" shape-rendering="crispEdges" />
<rect x="159" y="336" width="2" height="4" fill="#fff" shape-rendering="crispEdges" />
<rect x="163" y="324" width="3" height="4" fill="#fff" shape-rendering="crispEdges" />
<rect x="163" y="336" width="3" height="4" fill="#fff" shape-rendering="crispEdges" />
<rect x="168" y="324" width="2" height="4" fill="#fff" shape-rendering="crispEdges" />
<rect x="168" y="336" width="2" height="4" fill="#fff" shape-rendering="crispEdges" />
<rect x="172" y="324" width="3" height="4" fill="#fff" shape-rendering="crispEdges" />
<rect x="172" y="336" width="3" height="4" fill="#fff" shape-rendering="crispEdges" />
<rect x="177" y="324" width="2" height="4" fill="#fff" shape-rendering="crispEdges" />
<rect x="177" y="336" width="2" height="4" fill="#fff" shape-rendering="crispEdges" />
<rect x="182" y="324" width="2" height="4" fill="#fff" shape-rendering="crispEdges" />
<rect x="182" y="336" width="2" height="4" fill="#fff" shape-rendering="crispEdges" />
<rect x="186" y="324" width="2" height="4" fill="#fff" shape-rendering="crispEdges" />
<rect x="186" y="336" width="2" height="4" fill="#fff" shape-rendering="crispEdges" />
<rect x="191" y="324" width="2" height="4" fill="#fff" shape-rendering="crispEdges" />
<rect x="191" y="336" width="2" height="4" fill="#fff" shape-rendering="crispEdges" />
<rect x="196" y="324" width="2" height="4" fill="#fff" shape-rendering="crispEdges" />
<rect x="196" y="336" width="2" height="4" fill="#fff" shape-rendering="crispEdges" />
<rect x="128" y="330" width="68" height="4" fill="#fff" shape-rendering="crispEdges" />
<rect x="199" y="330" width="3" height="4" fill="#fff" shape-rendering="crispEdges" />
<rect x="200" y="330" width="2" height="4" fill="#000" shape-rendering="crispEdges" />
<rect x="42" y="344" width="79" height="20" fill="#000" shape-rendering="crispEdges" />
<rect x="45" y="346" width="3" height="3" fill="#fff" shape-rendering="crispEdges" />
<rect x="45" y="358" width="3" height="3" fill="#fff" shape-rendering="crispEdges" />
<rect x="50" y="346" width="2" height="3" fill="#fff" shape-rendering="crispEdges" />
<rect x="50" y="358" width="2" height="3" fill="#fff" shape-rendering="crispEdges" />
<rect x="54" y="346" width="3" height="3" fill="#fff" shape-rendering="crispEdges" />
<rect x="54" y="358" width="3" height="3" fill="#fff" shape-rendering="crispEdges" />
<rect x="59" y="346" width="2" height="3" fill="#fff" shape-rendering="crispEdges" />
<rect x="59" y="358" width="2" height="3" fill="#fff" shape-rendering="crispEdges" />
<rect x="63" y="346" width="3" height="3" fill="#fff" shape-rendering="crispEdges" />
<rect x="63" y="358" width="3" height="3" fill="#fff" shape-rendering="crispEdges" />
<rect x="68" y="346" width="2" height="3" fill="#fff" shape-rendering="crispEdges" />
<rect x="68" y="358" width="2" height="3" fill="#fff" shape-rendering="crispEdges" />
<rect x="73" y="346" width="2" height="3" fill="#fff" shape-rendering="crispEdges" />
<rect x="73" y="358" width="2" height="3" fill="#fff" shape-rendering="crispEdges" />
<rect x="77" y="346" width="2" height="3" fill="#fff" shape-rendering="crispEdges" />
<rect x="77" y="358" width="2" height="3" fill="#fff" shape-rendering="crispEdges" />
<rect x="82" y="346" width="2" height="3" fill="#fff" shape-rendering="crispEdges" />
<rect x="82" y="358" width="2" height="3" fill="#fff" shape-rendering="crispEdges" />
<rect x="86" y="346" width="2" height="3" fill="#fff" shape-rendering="crispEdges" />
<rect x="86" y="358" width="2" height="3" fill="#fff" shape-rendering="crispEdges" />
<rect x="91" y="346" width="3" height="3" fill="#fff" shape-rendering="crispEdges" />
<rect x="91" y="358" width="3" height="3" fill="#fff" shape-rendering="crispEdges" />
<rect x="96" y="346" width="2" height="3" fill="#fff" shape-rendering="crispEdges" />
<rect x="96" y="358" width="2" height="3" fill="#fff" shape-rendering="crispEdges" />
<rect x="100" y="346" width="3" height="3" fill="#fff" shape-rendering="crispEdges" />
<rect x="100" y="358" width="3" height="3" fill="#fff" shape-rendering="crispEdges" />
<rect x="105" y="346" width="2" height="3" fill="#fff" shape-rendering="crispEdges" />
<rect x="105" y="358" width="2" height="3" fill="#fff" shape-rendering="crispEdges" />
<rect x="109" y="346" width="3" height="3" fill="#fff" shape-rendering="crispEdges" />
<rect x="109" y="358" width="3" height="3" fill="#fff" shape-rendering="crispEdges" />
<rect x="114" y="346" width="2" height="3" fill="#fff" shape-rendering="crispEdges" />
<rect x="114" y="358" width="2" height="3" fill="#fff" shape-rendering="crispEdges" />
<rect x="47" y="352" width="69" height="4" fill="#fff" shape-rendering="crispEdges" />
<rect x="118" y="351" width="3" height="5" fill="#fff" shape-rendering="crispEdges" />
<rect x="120" y="352" width="1" height="3" fill="#000" shape-rendering="crispEdges" />
<rect x="124" y="344" width="78" height="20" fill="#000" shape-rendering="crispEdges" />
<rect x="126" y="346" width="3" height="3" fill="#fff" shape-rendering="crispEdges" />
<rect x="126" y="358" width="3" height="3" fill="#fff" shape-rendering="crispEdges" />
<rect x="131" y="346" width="2" height="3" fill="#fff" shape-rendering="crispEdges" />
<rect x="131" y="358" width="2" height="3" fill="#fff" shape-rendering="crispEdges" />
<rect x="136" y="346" width="2" height="3" fill="#fff" shape-rendering="crispEdges" />
<rect x="136" y="358" width="2" height="3" fill="#fff" shape-rendering="crispEdges" />
<rect x="140" y="346" width="2" height="3" fill="#fff" shape-rendering="crispEdges" />
<rect x="140" y="358" width="2" height="3" fill="#fff" shape-rendering="crispEdges" />
<rect x="145" y="346" width="3" height="3" fill="#fff" shape-rendering="crispEdges" />
<rect x="145" y="358" width="3" height="3" fill="#fff" shape-rendering="crispEdges" />
<rect x="150" y="346" width="2" height="3" fill="#fff" shape-rendering="crispEdges" />
<rect x="150" y="358" width="2" height="3" fill="#fff" shape-rendering="crispEdges" />
<rect x="154" y="346" width="3" height="3" fill="#fff" shape-rendering="crispEdges" />
<rect x="154" y="358" width="3" height="3" fill="#fff" shape-rendering="crispEdges" />
<rect x="159" y="346" width="2" height="3" fill="#fff" shape-rendering="crispEdges" />
<rect x="159" y="358" width="2" height="3" fill="#fff" shape-rendering="crispEdges" />
<rect x="163" y="346" width="3" height="3" fill="#fff" shape-rendering="crispEdges" />
<rect x="163" y="358" width="3" height="3" fill="#fff" shape-rendering="crispEdges" />
<rect x="168" y="346" width="2" height="3" fill="#fff" shape-rendering="crispEdges" />
<rect x="168" y="358" width="2" height="3" fill="#fff" shape-rendering="crispEdges" />
<rect x="172" y="346" width="3" height="3" fill="#fff" shape-rendering="crispEdges" />
<rect x="172" y="358" width="3" height="3" fill="#fff" shape-rendering="crispEdges" />
<rect x="177" y="346" width="2" height="3" fill="#fff" shape-rendering="crispEdges" />
<rect x="177" y="358" width="2" height="3" fill="#fff" shape-rendering="crispEdges" />
<rect x="182" y="346" width="2" height="3" fill="#fff" shape-rendering="crispEdges" />
<rect x="182" y="358" width="2" height="3" fill="#fff" shape-rendering="crispEdges" />
<rect x="186" y="346" width="2" height="3" fill="#fff" shape-rendering="crispEdges" />
<rect x="186" y="358" width="2" height="3" fill="#fff" shape-rendering="crispEdges" />
<rect x="191" y="346" width="2" height="3" fill="#fff" shape-rendering="crispEdges" />
<rect x="191" y="358" width="2" height="3" fill="#fff" shape-rendering="crispEdges" />
<rect x="196" y="346" width="2" height="3" fill="#fff" shape-rendering="crispEdges" />
<rect x="196" y="358" width="2" height="3" fill="#fff" shape-rendering="crispEdges" />
<rect x="128" y="352" width="68" height="4" fill="#fff" shape-rendering="crispEdges" />
<rect x="199" y="351" width="3" height="5" fill="#fff" shape-rendering="crispEdges" />
<rect x="200" y="352" width="2" height="3" fill="#000" shape-rendering="crispEdges" />
<rect x="42" y="365" width="79" height="20" fill="#000" shape-rendering="crispEdges" />
<rect x="45" y="367" width="3" height="4" fill="#fff" shape-rendering="crispEdges" />
<rect x="45" y="379" width="3" height="4" fill="#fff" shape-rendering="crispEdges" />
<rect x="50" y="367" width="2" height="4" fill="#fff" shape-rendering="crispEdges" />
<rect x="50" y="379" width="2" height="4" fill="#fff" shape-rendering="crispEdges" />
<rect x="54" y="367" width="3" height="4" fill="#fff" shape-rendering="crispEdges" />
<rect x="54" y="379" width="3" height="4" fill="#fff" shape-rendering="crispEdges" />
<rect x="59" y="367" width="2" height="4" fill="#fff" shape-rendering="crispEdges" />
<rect x="59" y="379" width="2" height="4" fill="#fff" shape-rendering="crispEdges" />
<rect x="63" y="367" width="3" height="4" fill="#fff" shape-rendering="crispEdges" />
<rect x="63" y="379" width="3" height="4" fill="#fff" shape-rendering="crispEdges" />
<rect x="68" y="367" width="2" height="4" fill="#fff" shape-rendering="crispEdges" />
<rect x="68" y="379" width="2" height="4" fill="#fff" shape-rendering="crispEdges" />
<rect x="73" y="367" width="2" height="4" fill="#fff" shape-rendering="crispEdges" />
<rect x="73" y="379" width="2" height="4" fill="#fff" shape-rendering="crispEdges" />
<rect x="77" y="367" width="2" height="4" fill="#fff" shape-rendering="crispEdges" />
<rect x="77" y="379" width="2" height="4" fill="#fff" shape-rendering="crispEdges" />
<rect x="82" y="367" width="2" height="4" fill="#fff" shape-rendering="crispEdges" />
<rect x="82" y="379" width="2" height="4" fill="#fff" shape-rendering="crispEdges" />
<rect x="86" y="367" width="2" height="4" fill="#fff" shape-rendering="crispEdges" />
<rect x="86" y="379" width="2" height="4" fill="#fff" shape-rendering="crispEdges" />
<rect x="91" y="367" width="3" height="4" fill="#fff" shape-rendering="crispEdges" />
<rect x="91" y="379" width="3" height="4" fill="#fff" shape-rendering="crispEdges" />
<rect x="96" y="367" width="2" height="4" fill="#fff" shape-rendering="crispEdges" />
<rect x="96" y="379" width="2" height="4" fill="#fff" shape-rendering="crispEdges" />
<rect x="100" y="367" width="3" height="4" fill="#fff" shape-rendering="crispEdges" />
<rect x="100" y="379" width="3" height="4" fill="#fff" shape-rendering="crispEdges" />
<rect x="105" y="367" width="2" height="4" fill="#fff" shape-rendering="crispEdges" />
<rect x="105" y="379" width="2" height="4" fill="#fff" shape-rendering="crispEdges" />
<rect x="109" y="367" width="3" height="4" fill="#fff" shape-rendering="crispEdges" />
<rect x="109" y="379" width="3" height="4" fill="#fff" shape-rendering="crispEdges" />
<rect x="114" y="367" width="2" height="4" fill="#fff" shape-rendering="crispEdges" />
<rect x="114" y="379" width="2" height="4" fill="#fff" shape-rendering="crispEdges" />
<rect x="47" y="373" width="69" height="4" fill="#fff" shape-rendering="crispEdges" />
<rect x="118" y="373" width="3" height="5" fill="#fff" shape-rendering="crispEdges" />
<rect x="120" y="374" width="1" height="3" fill="#000" shape-rendering="crispEdges" />
<rect x="124" y="365" width="78" height="20" fill="#000" shape-rendering="crispEdges" />
<rect x="126" y="367" width="3" height="4" fill="#fff" shape-rendering="crispEdges" />
<rect x="126" y="379" width="3" height="4" fill="#fff" shape-rendering="crispEdges" />
<rect x="131" y="367" width="2" height="4" fill="#fff" shape-rendering="crispEdges" />
<rect x="131" y="379" width="2" height="4" fill="#fff" shape-rendering="crispEdges" />
<rect x="136" y="367" width="2" height="4" fill="#fff" shape-rendering="crispEdges" />
<rect x="136" y="379" width="2" height="4" fill="#fff" shape-rendering="crispEdges" />
<rect x="140" y="367" width="2" height="4" fill="#fff" shape-rendering="crispEdges" />
<rect x="140" y="379" width="2" height="4" fill="#fff" shape-rendering="crispEdges" />
<rect x="145" y="367" width="3" height="4" fill="#fff" shape-rendering="crispEdges" />
<rect x="145" y="379" width="3" height="4" fill="#fff" shape-rendering="crispEdges" />
<rect x="150" y="367" width="2" height="4" fill="#fff" shape-rendering="crispEdges" />
<rect x="150" y="379" width="2" height="4" fill="#fff" shape-rendering="crispEdges" />
<rect x="154" y="367" width="3" height="4" fill="#fff" shape-rendering="crispEdges" />
<rect x="154" y="379" width="3" height="4" fill="#fff" shape-rendering="crispEdges" />
<rect x="159" y="367" width="2" height="4" fill="#fff" shape-rendering="crispEdges" />
<rect x="159" y="379" width="2" height="4" fill="#fff" shape-rendering="crispEdges" />
<rect x="163" y="367" width="3" height="4" fill="#fff" shape-rendering="crispEdges" />
<rect x="163" y="379" width="3" height="4" fill="#fff" shape-rendering="crispEdges" />
<rect x="168" y="367" width="2" height="4" fill="#fff" shape-rendering="crispEdges" />
<rect x="168" y="379" width="2" height="4" fill="#fff" shape-rendering="crispEdges" />
<rect x="172" y="367" width="3" height="4" fill="#fff" shape-rendering="crispEdges" />
<rect x="172" y="379" width="3" height="4" fill="#fff" shape-rendering="crispEdges" />
<rect x="177" y="367" width="2" height="4" fill="#fff" shape-rendering="crispEdges" />
<rect x="177" y="379" width="2" height="4" fill="#fff" shape-rendering="crispEdges" />
<rect x="182" y="367" width="2" height="4" fill="#fff" shape-rendering="crispEdges" />
<rect x="182" y="379" width="2" height="4" fill="#fff" shape-rendering="crispEdges" />
<rect x="186" y="367" width="2" height="4" fill="#fff" shape-rendering="crispEdges" />
<rect x="186" y="379" width="2" height="4" fill="#fff" shape-rendering="crispEdges" />
<rect x="191" y="367" width="2" height="4" fill="#fff" shape-rendering="crispEdges" />
<rect x="191" y="379" width="2" height="4" fill="#fff" shape-rendering="crispEdges" />
<rect x="196" y="367" width="2" height="4" fill="#fff" shape-rendering="crispEdges" />
<rect x="196" y="379" width="2" height="4" fill="#fff" shape-rendering="crispEdges" />
<rect x="128" y="373" width="68" height="4" fill="#fff" shape-rendering="crispEdges" />
<rect x="199" y="373" width="3" height="5" fill="#fff" shape-rendering="crispEdges" />
<rect x="200" y="374" width="2" height="3" fill="#000" shape-rendering="crispEdges" />
<rect x="42" y="387" width="79" height="20" fill="#000" shape-rendering="crispEdges" />
<rect x="45" y="389" width="3" height="4" fill="#fff" shape-rendering="crispEdges" />
<rect x="45" y="401" width="3" height="4" fill="#fff" shape-rendering="crispEdges" />
<rect x="50" y="389" width="2" height="4" fill="#fff" shape-rendering="crispEdges" />
<rect x="50" y="401" width="2" height="4" fill="#fff" shape-rendering="crispEdges" />
<rect x="54" y="389" width="3" height="4" fill="#fff" shape-rendering="crispEdges" />
<rect x="54" y="401" width="3" height="4" fill="#fff" shape-rendering="crispEdges" />
<rect x="59" y="389" width="2" height="4" fill="#fff" shape-rendering="crispEdges" />
<rect x="59" y="401" width="2" height="4" fill="#fff" shape-rendering="crispEdges" />
<rect x="63" y="389" width="3" height="4" fill="#fff" shape-rendering="crispEdges" />
<rect x="63" y="401" width="3" height="4" fill="#fff" shape-rendering="crispEdges" />
<rect x="68" y="389" width="2" height="4" fill="#fff" shape-rendering="crispEdges" />
<rect x="68" y="401" width="2" height="4" fill="#fff" shape-rendering="crispEdges" />
<rect x="73" y="389" width="2" height="4" fill="#fff" shape-rendering="crispEdges" />
<rect x="73" y="401" width="2" height="4" fill="#fff" shape-rendering="crispEdges" />
<rect x="77" y="389" width="2" height="4" fill="#fff" shape-rendering="crispEdges" />
<rect x="77" y="401" width="2" height="4" fill="#fff" shape-rendering="crispEdges" />
<rect x="82" y="389" width="2" height="4" fill="#fff" shape-rendering="crispEdges" />
<rect x="82" y="401" width="2" height="4" fill="#fff" shape-rendering="crispEdges" />
<rect x="86" y="389" width="2" height="4" fill="#fff" shape-rendering="crispEdges" />
<rect x="86" y="401" width="2" height="4" fill="#fff" shape-rendering="crispEdges" />
<rect x="91" y="389" width="3" height="4" fill="#fff" shape-rendering="crispEdges" />
<rect x="91" y="401" width="3" height="4" fill="#fff" shape-rendering="crispEdges" />
<rect x="96" y="389" width="2" height="4" fill="#fff" shape-rendering="crispEdges" />
<rect x="96" y="401" width="2" height="4" fill="#fff" shape-rendering="crispEdges" />
<rect x="100" y="389" width="3" height="4" fill="#fff" shape-rendering="crispEdges" />
<rect x="100" y="401" width="3" height="4" fill="#fff" shape-rendering="crispEdges" />
<rect x="105" y="389" width="2" height="4" fill="#fff" shape-rendering="crispEdges" />
<rect x="105" y="401" width="2" height="4" fill="#fff" shape-rendering="crispEdges" />
<rect x="109" y="389" width="3" height="4" fill="#fff" shape-rendering="crispEdges" />
<rect x="109" y="401" width="3" height="4" fill="#fff" shape-rendering="crispEdges" />
<rect x="114" y="389" width="2" height="4" fill="#fff" shape-rendering="crispEdges" />
<rect x="114" y="401" width="2" height="4" fill="#fff" shape-rendering="crispEdges" />
<rect x="47" y="395" width="69" height="4" fill="#fff" shape-rendering="crispEdges" />
<rect x="118" y="394" width="3" height="5" fill="#fff" shape-rendering="crispEdges" />
<rect x="120" y="395" width="1" height="3" fill="#000" shape-rendering="crispEdges" />
<rect x="124" y="387" width="78" height="20" fill="#000" shape-rendering="crispEdges" />
<rect x="126" y="389" width="3" height="4" fill="#fff" shape-rendering="crispEdges" />
<rect x="126" y="401" width="3" height="4" fill="#fff" shape-rendering="crispEdges" />
<rect x="131" y="389" width="2" height="4" fill="#fff" shape-rendering="crispEdges" />
<rect x="131" y="401" width="2" height="4" fill="#fff" shape-rendering="crispEdges" />
<rect x="136" y="389" width="2" height="4" fill="#fff" shape-rendering="crispEdges" />
<rect x="136" y="401" width="2" height="4" fill="#fff" shape-rendering="crispEdges" />
<rect x="140" y="389" width="2" height="4" fill="#fff" shape-rendering="crispEdges" />
<rect x="140" y="401" width="2" height="4" fill="#fff" shape-rendering="crispEdges" />
<rect x="145" y="389" width="3" height="4" fill="#fff" shape-rendering="crispEdges" />
<rect x="145" y="401" width="3" height="4" fill="#fff" shape-rendering="crispEdges" />
<rect x="150" y="389" width="2" height="4" fill="#fff" shape-rendering="crispEdges" />
<rect x="150" y="401" width="2" height="4" fill="#fff" shape-rendering="crispEdges" />
<rect x="154" y="389" width="3" height="4" fill="#fff" shape-rendering="crispEdges" />
<rect x="154" y="401" width="3" height="4" fill="#fff" shape-rendering="crispEdges" />
<rect x="159" y="389" width="2" height="4" fill="#fff" shape-rendering="crispEdges" />
<rect x="159" y="401" width="2" height="4" fill="#fff" shape-rendering="crispEdges" />
<rect x="163" y="389" width="3" height="4" fill="#fff" shape-rendering="crispEdges" />
<rect x="163" y="401" width="3" height="4" fill="#fff" shape-rendering="crispEdges" />
<rect x="168" y="389" width="2" height="4" fill="#fff" shape-rendering="crispEdges" />
<rect x="168" y="401" width="2" height="4" fill="#fff" shape-rendering="crispEdges" />
<rect x="172" y="389" width="3" height="4" fill="#fff" shape-rendering="crispEdges" />
<rect x="172" y="401" width="3" height="4" fill="#fff" shape-rendering="crispEdges" />
<rect x="177" y="389" width="2" height="4" fill="#fff" shape-rendering="crispEdges" />
<rect x="177" y="401" width="2" height="4" fill="#fff" shape-rendering="crispEdges" />
<rect x="182" y="389" width="2" height="4" fill="#fff" shape-rendering="crispEdges" />
<rect x="182" y="401" width="2" height="4" fill="#fff" shape-rendering="crispEdges" />
<rect x="186" y="389" width="2" height="4" fill="#fff" shape-rendering="crispEdges" />
<rect x="186" y="401" width="2" height="4" fill="#fff" shape-rendering="crispEdges" />
<rect x="191" y="389" width="2" height="4" fill="#fff" shape-rendering="crispEdges" />
<rect x="191" y="401" width="2" height="4" fill="#fff" shape-rendering="crispEdges" />
<rect x="196" y="389" width="2" height="4" fill="#fff" shape-rendering="crispEdges" />
<rect x="196" y="401" width="2" height="4" fill="#fff" shape-rendering="crispEdges" />
<rect x="128" y="395" width="68" height="4" fill="#fff" shape-rendering="crispEdges" />
<rect x="199" y="394" width="3" height="5" fill="#fff" shape-rendering="crispEdges" />
<rect x="200" y="395" width="2" height="3" fill="#000" shape-rendering="crispEdges" />
<rect x="79" y="330" width="4" height="4" fill="#000" shape-rendering="crispEdges" />
<rect x="160" y="330" width="4" height="4" fill="#000" shape-rendering="crispEdges" />
<rect x="76.5" y="336.2" width="11" height="56.30000000000001" fill="#fff" stroke="#000" stroke-width="1"/>
<text x="82.00" y="343.60" font-size="10" text-anchor="middle" fill="#000" font-weight="normal"  >B</text>
<text x="82.00" y="355.30" font-size="10" text-anchor="middle" fill="#000" font-weight="normal"  >A</text>
<text x="82.00" y="367.00" font-size="10" text-anchor="middle" fill="#000" font-weight="normal"  >N</text>
<text x="82.00" y="378.70" font-size="10" text-anchor="middle" fill="#000" font-weight="normal"  >K</text>
<text x="82.00" y="390.40" font-size="10" text-anchor="middle" fill="#000" font-weight="normal"  >0</text>
<rect x="157.5" y="336.2" width="11" height="55.80000000000001" fill="#fff" stroke="#000" stroke-width="1"/>
<text x="163.00" y="343.60" font-size="10" text-anchor="middle" fill="#000" font-weight="normal"  >B</text>
<text x="163.00" y="355.30" font-size="10" text-anchor="middle" fill="#000" font-weight="normal"  >A</text>
<text x="163.00" y="367.00" font-size="10" text-anchor="middle" fill="#000" font-weight="normal"  >N</text>
<text x="163.00" y="378.70" font-size="10" text-anchor="middle" fill="#000" font-weight="normal"  >K</text>
<text x="163.00" y="390.40" font-size="10" text-anchor="middle" fill="#000" font-weight="normal"  >1</text>
<rect x="102.50" y="358.50" width="38.00" height="11.00" rx="0.5" fill="#fff" stroke="#000" stroke-width="1"/>
<text x="121.55" y="368.00" font-size="11" text-anchor="middle" fill="#000" font-weight="normal"   textLength="34" lengthAdjust="spacingAndGlyphs">CACHE</text>
<rect x="133" y="300" width="68" height="20" fill="#000" shape-rendering="crispEdges" />
<rect x="136" y="302" width="3" height="4" fill="#fff" shape-rendering="crispEdges" />
<rect x="136" y="314" width="3" height="4" fill="#fff" shape-rendering="crispEdges" />
<rect x="141" y="302" width="2" height="4" fill="#fff" shape-rendering="crispEdges" />
<rect x="141" y="314" width="2" height="4" fill="#fff" shape-rendering="crispEdges" />
<rect x="146" y="302" width="2" height="4" fill="#fff" shape-rendering="crispEdges" />
<rect x="146" y="314" width="2" height="4" fill="#fff" shape-rendering="crispEdges" />
<rect x="150" y="302" width="2" height="4" fill="#fff" shape-rendering="crispEdges" />
<rect x="150" y="314" width="2" height="4" fill="#fff" shape-rendering="crispEdges" />
<rect x="155" y="302" width="3" height="4" fill="#fff" shape-rendering="crispEdges" />
<rect x="155" y="314" width="3" height="4" fill="#fff" shape-rendering="crispEdges" />
<rect x="160" y="302" width="2" height="4" fill="#fff" shape-rendering="crispEdges" />
<rect x="160" y="314" width="2" height="4" fill="#fff" shape-rendering="crispEdges" />
<rect x="165" y="302" width="2" height="4" fill="#fff" shape-rendering="crispEdges" />
<rect x="165" y="314" width="2" height="4" fill="#fff" shape-rendering="crispEdges" />
<rect x="170" y="302" width="2" height="4" fill="#fff" shape-rendering="crispEdges" />
<rect x="170" y="314" width="2" height="4" fill="#fff" shape-rendering="crispEdges" />
<rect x="174" y="302" width="3" height="4" fill="#fff" shape-rendering="crispEdges" />
<rect x="174" y="314" width="3" height="4" fill="#fff" shape-rendering="crispEdges" />
<rect x="179" y="302" width="2" height="4" fill="#fff" shape-rendering="crispEdges" />
<rect x="179" y="314" width="2" height="4" fill="#fff" shape-rendering="crispEdges" />
<rect x="184" y="302" width="3" height="4" fill="#fff" shape-rendering="crispEdges" />
<rect x="184" y="314" width="3" height="4" fill="#fff" shape-rendering="crispEdges" />
<rect x="189" y="302" width="2" height="4" fill="#fff" shape-rendering="crispEdges" />
<rect x="189" y="314" width="2" height="4" fill="#fff" shape-rendering="crispEdges" />
<rect x="194" y="302" width="2" height="4" fill="#fff" shape-rendering="crispEdges" />
<rect x="194" y="314" width="2" height="4" fill="#fff" shape-rendering="crispEdges" />
<rect x="138" y="308" width="58" height="4" fill="#fff" shape-rendering="crispEdges" />
<rect x="198" y="307" width="3" height="5" fill="#fff" shape-rendering="crispEdges" />
<rect x="200" y="308" width="1" height="3" fill="#000" shape-rendering="crispEdges" />
<rect x="154.6" y="302.7" width="25.4" height="15" rx="2" fill="#fff"/>
<rect x="156" y="304" width="22.6" height="12.2" rx="2" fill="#fff" stroke="#000" stroke-width="1"/>
<text x="167.30" y="314.50" font-size="11" text-anchor="middle" fill="#000" font-weight="normal"   textLength="19" lengthAdjust="spacingAndGlyphs">TAG</text>
<rect x="331" y="288" width="95" height="11" fill="#000" shape-rendering="crispEdges" />
<rect x="332" y="293" width="93" height="1" fill="#fff" shape-rendering="crispEdges" />
<rect x="336" y="290" width="1" height="8" fill="#fff" shape-rendering="crispEdges" />
<rect x="341" y="290" width="1" height="8" fill="#fff" shape-rendering="crispEdges" />
<rect x="345" y="290" width="1" height="8" fill="#fff" shape-rendering="crispEdges" />
<rect x="350" y="290" width="1" height="8" fill="#fff" shape-rendering="crispEdges" />
<rect x="359" y="290" width="1" height="8" fill="#fff" shape-rendering="crispEdges" />
<rect x="364" y="290" width="1" height="8" fill="#fff" shape-rendering="crispEdges" />
<rect x="373" y="290" width="1" height="8" fill="#fff" shape-rendering="crispEdges" />
<rect x="378" y="290" width="1" height="8" fill="#fff" shape-rendering="crispEdges" />
<rect x="383" y="290" width="1" height="8" fill="#fff" shape-rendering="crispEdges" />
<rect x="387" y="290" width="1" height="8" fill="#fff" shape-rendering="crispEdges" />
<rect x="392" y="290" width="1" height="8" fill="#fff" shape-rendering="crispEdges" />
<rect x="401" y="290" width="1" height="8" fill="#fff" shape-rendering="crispEdges" />
<rect x="406" y="290" width="1" height="8" fill="#fff" shape-rendering="crispEdges" />
<rect x="411" y="290" width="1" height="8" fill="#fff" shape-rendering="crispEdges" />
<rect x="415" y="290" width="1" height="8" fill="#fff" shape-rendering="crispEdges" />
<rect x="420" y="290" width="1" height="8" fill="#fff" shape-rendering="crispEdges" />
<rect x="331" y="306" width="95" height="11" fill="#000" shape-rendering="crispEdges" />
<rect x="332" y="311" width="93" height="1" fill="#fff" shape-rendering="crispEdges" />
<rect x="336" y="308" width="1" height="8" fill="#fff" shape-rendering="crispEdges" />
<rect x="341" y="308" width="1" height="8" fill="#fff" shape-rendering="crispEdges" />
<rect x="345" y="308" width="1" height="8" fill="#fff" shape-rendering="crispEdges" />
<rect x="350" y="308" width="1" height="8" fill="#fff" shape-rendering="crispEdges" />
<rect x="359" y="308" width="1" height="8" fill="#fff" shape-rendering="crispEdges" />
<rect x="364" y="308" width="1" height="8" fill="#fff" shape-rendering="crispEdges" />
<rect x="373" y="308" width="1" height="8" fill="#fff" shape-rendering="crispEdges" />
<rect x="378" y="308" width="1" height="8" fill="#fff" shape-rendering="crispEdges" />
<rect x="383" y="308" width="1" height="8" fill="#fff" shape-rendering="crispEdges" />
<rect x="387" y="308" width="1" height="8" fill="#fff" shape-rendering="crispEdges" />
<rect x="392" y="308" width="1" height="8" fill="#fff" shape-rendering="crispEdges" />
<rect x="401" y="308" width="1" height="8" fill="#fff" shape-rendering="crispEdges" />
<rect x="406" y="308" width="1" height="8" fill="#fff" shape-rendering="crispEdges" />
<rect x="411" y="308" width="1" height="8" fill="#fff" shape-rendering="crispEdges" />
<rect x="415" y="308" width="1" height="8" fill="#fff" shape-rendering="crispEdges" />
<rect x="420" y="308" width="1" height="8" fill="#fff" shape-rendering="crispEdges" />
<polygon points="319.5,289 323,292.3 331,292.3 331,294 323,294 319.5,296.5" fill="#000"/>
<polygon points="319.5,307 323,310.3 331,310.3 331,312 323,312 319.5,314.5" fill="#000"/>
<rect x="449" y="288" width="26" height="10" fill="#000" shape-rendering="crispEdges" />
<rect x="450" y="292" width="24" height="1" fill="#fff" shape-rendering="crispEdges" />
<rect x="450" y="289" width="1" height="7" fill="#fff" shape-rendering="crispEdges" />
<rect x="454" y="289" width="1" height="7" fill="#fff" shape-rendering="crispEdges" />
<rect x="459" y="289" width="1" height="7" fill="#fff" shape-rendering="crispEdges" />
<rect x="464" y="289" width="1" height="7" fill="#fff" shape-rendering="crispEdges" />
<rect x="468" y="289" width="1" height="7" fill="#fff" shape-rendering="crispEdges" />
<rect x="473" y="289" width="1" height="7" fill="#fff" shape-rendering="crispEdges" />
<rect x="484" y="288" width="25" height="10" fill="#000" shape-rendering="crispEdges" />
<rect x="486" y="292" width="22" height="2" fill="#fff" shape-rendering="crispEdges" />
<rect x="489" y="290" width="1" height="6" fill="#fff" shape-rendering="crispEdges" />
<rect x="498" y="290" width="1" height="6" fill="#fff" shape-rendering="crispEdges" />
<rect x="502" y="290" width="1" height="6" fill="#fff" shape-rendering="crispEdges" />
<rect x="506" y="290" width="1" height="6" fill="#fff" shape-rendering="crispEdges" />
<rect x="450" y="306" width="62" height="10" fill="#000" shape-rendering="crispEdges" />
<rect x="452" y="310" width="59" height="2" fill="#fff" shape-rendering="crispEdges" />
<rect x="454" y="308" width="2" height="6" fill="#fff" shape-rendering="crispEdges" />
<rect x="459" y="308" width="1" height="6" fill="#fff" shape-rendering="crispEdges" />
<rect x="464" y="308" width="1" height="6" fill="#fff" shape-rendering="crispEdges" />
<rect x="468" y="308" width="1" height="6" fill="#fff" shape-rendering="crispEdges" />
<rect x="473" y="308" width="1" height="6" fill="#fff" shape-rendering="crispEdges" />
<rect x="478" y="308" width="1" height="6" fill="#fff" shape-rendering="crispEdges" />
<rect x="483" y="308" width="1" height="6" fill="#fff" shape-rendering="crispEdges" />
<rect x="487" y="308" width="1" height="6" fill="#fff" shape-rendering="crispEdges" />
<rect x="492" y="308" width="1" height="6" fill="#fff" shape-rendering="crispEdges" />
<rect x="497" y="308" width="1" height="6" fill="#fff" shape-rendering="crispEdges" />
<rect x="506" y="308" width="1" height="6" fill="#fff" shape-rendering="crispEdges" />
<polyline points="460,288 463,284 468,281" fill="none" stroke="#000" stroke-width="2" stroke-linejoin="round"/>
<polygon points="509,292 516,292 521,289.5 521,296.5 516,294 509,294" fill="#000"/>
<polygon points="512,310 520,310 525,307.5 525,314.5 520,312 512,312" fill="#000"/>
<rect x="431" y="323" width="81" height="10" fill="#000" shape-rendering="crispEdges" />
<rect x="432" y="324" width="1" height="7" fill="#fff" shape-rendering="crispEdges" />
<rect x="436" y="324" width="2" height="7" fill="#fff" shape-rendering="crispEdges" />
<rect x="441" y="324" width="1" height="7" fill="#fff" shape-rendering="crispEdges" />
<rect x="446" y="324" width="1" height="7" fill="#fff" shape-rendering="crispEdges" />
<rect x="450" y="324" width="1" height="7" fill="#fff" shape-rendering="crispEdges" />
<rect x="455" y="324" width="1" height="7" fill="#fff" shape-rendering="crispEdges" />
<rect x="459" y="324" width="2" height="7" fill="#fff" shape-rendering="crispEdges" />
<rect x="464" y="324" width="1" height="7" fill="#fff" shape-rendering="crispEdges" />
<rect x="469" y="324" width="1" height="7" fill="#fff" shape-rendering="crispEdges" />
<rect x="473" y="324" width="1" height="7" fill="#fff" shape-rendering="crispEdges" />
<rect x="478" y="324" width="1" height="7" fill="#fff" shape-rendering="crispEdges" />
<rect x="483" y="324" width="1" height="7" fill="#fff" shape-rendering="crispEdges" />
<rect x="487" y="324" width="1" height="7" fill="#fff" shape-rendering="crispEdges" />
<rect x="496" y="324" width="2" height="7" fill="#fff" shape-rendering="crispEdges" />
<rect x="501" y="324" width="1" height="7" fill="#fff" shape-rendering="crispEdges" />
<rect x="506" y="324" width="1" height="7" fill="#fff" shape-rendering="crispEdges" />
<polyline points="473,332.5 473.5,339 473.5,345.5" fill="none" stroke="#000" stroke-width="2" stroke-linejoin="round"/>
<rect x="393" y="326" width="16" height="10" fill="#000" shape-rendering="crispEdges" />
<rect x="398" y="327" width="1" height="7" fill="#fff" shape-rendering="crispEdges" />
<rect x="403" y="328" width="4" height="2" fill="#fff" shape-rendering="crispEdges" />
<rect x="403" y="332" width="4" height="2" fill="#fff" shape-rendering="crispEdges" />
<rect x="405" y="328" width="1" height="6" fill="#000" shape-rendering="crispEdges" />
<polyline points="386.5,339.5 389,334 393.5,331" fill="none" stroke="#000" stroke-width="2" stroke-linejoin="round"/>
<polyline points="408.9,328 412,330.5 415.5,334.5" fill="none" stroke="#000" stroke-width="2" stroke-linejoin="round"/>
<rect x="301" y="350" width="222" height="13" fill="#000" shape-rendering="crispEdges" />
<rect x="302" y="351" width="220" height="11" fill="#fff" shape-rendering="crispEdges" />
<rect x="302" y="351" width="9" height="11" fill="#000" shape-rendering="crispEdges" />
<rect x="302" y="351" width="6" height="2" fill="#fff" shape-rendering="crispEdges" />
<rect x="302" y="354" width="6" height="3" fill="#fff" shape-rendering="crispEdges" />
<rect x="302" y="358" width="6" height="4" fill="#fff" shape-rendering="crispEdges" />
<rect x="311" y="352" width="8" height="1" fill="#000" shape-rendering="crispEdges" />
<rect x="311" y="352" width="1" height="7" fill="#000" shape-rendering="crispEdges" />
<rect x="318" y="352" width="1" height="7" fill="#000" shape-rendering="crispEdges" />
<rect x="312" y="357" width="6" height="1" fill="#000" shape-rendering="crispEdges" />
<rect x="316" y="359" width="1" height="3" fill="#000" shape-rendering="crispEdges" />
<rect x="320" y="352" width="184" height="9" fill="#000" shape-rendering="crispEdges" />
<rect x="321" y="353" width="1" height="4" fill="#fff" shape-rendering="crispEdges" />
<rect x="323" y="353" width="1" height="4" fill="#fff" shape-rendering="crispEdges" />
<rect x="326" y="353" width="1" height="4" fill="#fff" shape-rendering="crispEdges" />
<rect x="335" y="353" width="1" height="4" fill="#fff" shape-rendering="crispEdges" />
<rect x="337" y="353" width="1" height="4" fill="#fff" shape-rendering="crispEdges" />
<rect x="339" y="353" width="1" height="4" fill="#fff" shape-rendering="crispEdges" />
<rect x="341" y="353" width="1" height="4" fill="#fff" shape-rendering="crispEdges" />
<rect x="351" y="353" width="1" height="4" fill="#fff" shape-rendering="crispEdges" />
<rect x="354" y="353" width="1" height="4" fill="#fff" shape-rendering="crispEdges" />
<rect x="357" y="353" width="1" height="4" fill="#fff" shape-rendering="crispEdges" />
<rect x="365" y="353" width="1" height="4" fill="#fff" shape-rendering="crispEdges" />
<rect x="368" y="353" width="1" height="4" fill="#fff" shape-rendering="crispEdges" />
<rect x="371" y="353" width="1" height="4" fill="#fff" shape-rendering="crispEdges" />
<rect x="381" y="353" width="1" height="4" fill="#fff" shape-rendering="crispEdges" />
<rect x="385" y="353" width="1" height="4" fill="#fff" shape-rendering="crispEdges" />
<rect x="397" y="353" width="1" height="4" fill="#fff" shape-rendering="crispEdges" />
<rect x="399" y="353" width="1" height="4" fill="#fff" shape-rendering="crispEdges" />
<rect x="401" y="353" width="1" height="4" fill="#fff" shape-rendering="crispEdges" />
<rect x="436" y="353" width="1" height="4" fill="#fff" shape-rendering="crispEdges" />
<rect x="438" y="353" width="1" height="4" fill="#fff" shape-rendering="crispEdges" />
<rect x="440" y="353" width="1" height="4" fill="#fff" shape-rendering="crispEdges" />
<rect x="450" y="353" width="1" height="4" fill="#fff" shape-rendering="crispEdges" />
<rect x="452" y="353" width="1" height="4" fill="#fff" shape-rendering="crispEdges" />
<rect x="454" y="353" width="1" height="4" fill="#fff" shape-rendering="crispEdges" />
<rect x="461" y="353" width="1" height="4" fill="#fff" shape-rendering="crispEdges" />
<rect x="462" y="353" width="1" height="4" fill="#fff" shape-rendering="crispEdges" />
<rect x="464" y="353" width="1" height="4" fill="#fff" shape-rendering="crispEdges" />
<rect x="466" y="353" width="1" height="4" fill="#fff" shape-rendering="crispEdges" />
<rect x="477" y="353" width="1" height="4" fill="#fff" shape-rendering="crispEdges" />
<rect x="480" y="353" width="1" height="4" fill="#fff" shape-rendering="crispEdges" />
<rect x="483" y="353" width="1" height="4" fill="#fff" shape-rendering="crispEdges" />
<rect x="493" y="353" width="1" height="4" fill="#fff" shape-rendering="crispEdges" />
<rect x="496" y="353" width="1" height="4" fill="#fff" shape-rendering="crispEdges" />
<rect x="500" y="353" width="1" height="4" fill="#fff" shape-rendering="crispEdges" />
<rect x="409" y="351" width="7" height="4" fill="#fff" shape-rendering="crispEdges" />
<rect x="506" y="352" width="8" height="1" fill="#000" shape-rendering="crispEdges" />
<rect x="506" y="352" width="1" height="7" fill="#000" shape-rendering="crispEdges" />
<rect x="513" y="352" width="1" height="7" fill="#000" shape-rendering="crispEdges" />
<rect x="507" y="357" width="6" height="1" fill="#000" shape-rendering="crispEdges" />
<rect x="508" y="358" width="1" height="4" fill="#000" shape-rendering="crispEdges" />
<rect x="514" y="351" width="8" height="11" fill="#000" shape-rendering="crispEdges" />
<rect x="517" y="351" width="5" height="2" fill="#fff" shape-rendering="crispEdges" />
<rect x="517" y="354" width="5" height="3" fill="#fff" shape-rendering="crispEdges" />
<rect x="517" y="358" width="5" height="4" fill="#fff" shape-rendering="crispEdges" />
<rect x="301" y="364" width="222" height="13" fill="#000" shape-rendering="crispEdges" />
<rect x="302" y="365" width="220" height="11" fill="#fff" shape-rendering="crispEdges" />
<rect x="302" y="365" width="9" height="11" fill="#000" shape-rendering="crispEdges" />
<rect x="302" y="365" width="6" height="2" fill="#fff" shape-rendering="crispEdges" />
<rect x="302" y="368" width="6" height="3" fill="#fff" shape-rendering="crispEdges" />
<rect x="302" y="372" width="6" height="4" fill="#fff" shape-rendering="crispEdges" />
<rect x="311" y="366" width="8" height="1" fill="#000" shape-rendering="crispEdges" />
<rect x="311" y="366" width="1" height="7" fill="#000" shape-rendering="crispEdges" />
<rect x="318" y="366" width="1" height="7" fill="#000" shape-rendering="crispEdges" />
<rect x="312" y="371" width="6" height="1" fill="#000" shape-rendering="crispEdges" />
<rect x="316" y="373" width="1" height="3" fill="#000" shape-rendering="crispEdges" />
<rect x="320" y="366" width="184" height="9" fill="#000" shape-rendering="crispEdges" />
<rect x="321" y="367" width="1" height="4" fill="#fff" shape-rendering="crispEdges" />
<rect x="323" y="367" width="1" height="4" fill="#fff" shape-rendering="crispEdges" />
<rect x="326" y="367" width="1" height="4" fill="#fff" shape-rendering="crispEdges" />
<rect x="335" y="367" width="1" height="4" fill="#fff" shape-rendering="crispEdges" />
<rect x="337" y="367" width="1" height="4" fill="#fff" shape-rendering="crispEdges" />
<rect x="339" y="367" width="1" height="4" fill="#fff" shape-rendering="crispEdges" />
<rect x="341" y="367" width="1" height="4" fill="#fff" shape-rendering="crispEdges" />
<rect x="351" y="367" width="1" height="4" fill="#fff" shape-rendering="crispEdges" />
<rect x="354" y="367" width="1" height="4" fill="#fff" shape-rendering="crispEdges" />
<rect x="357" y="367" width="1" height="4" fill="#fff" shape-rendering="crispEdges" />
<rect x="365" y="367" width="1" height="4" fill="#fff" shape-rendering="crispEdges" />
<rect x="368" y="367" width="1" height="4" fill="#fff" shape-rendering="crispEdges" />
<rect x="371" y="367" width="1" height="4" fill="#fff" shape-rendering="crispEdges" />
<rect x="381" y="367" width="1" height="4" fill="#fff" shape-rendering="crispEdges" />
<rect x="385" y="367" width="1" height="4" fill="#fff" shape-rendering="crispEdges" />
<rect x="397" y="367" width="1" height="4" fill="#fff" shape-rendering="crispEdges" />
<rect x="399" y="367" width="1" height="4" fill="#fff" shape-rendering="crispEdges" />
<rect x="401" y="367" width="1" height="4" fill="#fff" shape-rendering="crispEdges" />
<rect x="436" y="367" width="1" height="4" fill="#fff" shape-rendering="crispEdges" />
<rect x="438" y="367" width="1" height="4" fill="#fff" shape-rendering="crispEdges" />
<rect x="440" y="367" width="1" height="4" fill="#fff" shape-rendering="crispEdges" />
<rect x="450" y="367" width="1" height="4" fill="#fff" shape-rendering="crispEdges" />
<rect x="452" y="367" width="1" height="4" fill="#fff" shape-rendering="crispEdges" />
<rect x="454" y="367" width="1" height="4" fill="#fff" shape-rendering="crispEdges" />
<rect x="461" y="367" width="1" height="4" fill="#fff" shape-rendering="crispEdges" />
<rect x="462" y="367" width="1" height="4" fill="#fff" shape-rendering="crispEdges" />
<rect x="464" y="367" width="1" height="4" fill="#fff" shape-rendering="crispEdges" />
<rect x="466" y="367" width="1" height="4" fill="#fff" shape-rendering="crispEdges" />
<rect x="477" y="367" width="1" height="4" fill="#fff" shape-rendering="crispEdges" />
<rect x="480" y="367" width="1" height="4" fill="#fff" shape-rendering="crispEdges" />
<rect x="483" y="367" width="1" height="4" fill="#fff" shape-rendering="crispEdges" />
<rect x="493" y="367" width="1" height="4" fill="#fff" shape-rendering="crispEdges" />
<rect x="496" y="367" width="1" height="4" fill="#fff" shape-rendering="crispEdges" />
<rect x="500" y="367" width="1" height="4" fill="#fff" shape-rendering="crispEdges" />
<rect x="409" y="372" width="7" height="4" fill="#fff" shape-rendering="crispEdges" />
<rect x="506" y="366" width="8" height="1" fill="#000" shape-rendering="crispEdges" />
<rect x="506" y="366" width="1" height="7" fill="#000" shape-rendering="crispEdges" />
<rect x="513" y="366" width="1" height="7" fill="#000" shape-rendering="crispEdges" />
<rect x="507" y="371" width="6" height="1" fill="#000" shape-rendering="crispEdges" />
<rect x="508" y="372" width="1" height="4" fill="#000" shape-rendering="crispEdges" />
<rect x="514" y="365" width="8" height="11" fill="#000" shape-rendering="crispEdges" />
<rect x="517" y="365" width="5" height="2" fill="#fff" shape-rendering="crispEdges" />
<rect x="517" y="368" width="5" height="3" fill="#fff" shape-rendering="crispEdges" />
<rect x="517" y="372" width="5" height="4" fill="#fff" shape-rendering="crispEdges" />
<rect x="301" y="378" width="222" height="12" fill="#000" shape-rendering="crispEdges" />
<rect x="302" y="379" width="220" height="10" fill="#fff" shape-rendering="crispEdges" />
<rect x="302" y="379" width="9" height="10" fill="#000" shape-rendering="crispEdges" />
<rect x="302" y="379" width="6" height="2" fill="#fff" shape-rendering="crispEdges" />
<rect x="302" y="382" width="6" height="3" fill="#fff" shape-rendering="crispEdges" />
<rect x="302" y="386" width="6" height="3" fill="#fff" shape-rendering="crispEdges" />
<rect x="311" y="380" width="8" height="1" fill="#000" shape-rendering="crispEdges" />
<rect x="311" y="380" width="1" height="7" fill="#000" shape-rendering="crispEdges" />
<rect x="318" y="380" width="1" height="7" fill="#000" shape-rendering="crispEdges" />
<rect x="312" y="385" width="6" height="1" fill="#000" shape-rendering="crispEdges" />
<rect x="316" y="387" width="1" height="1" fill="#000" shape-rendering="crispEdges" />
<rect x="320" y="380" width="184" height="8" fill="#000" shape-rendering="crispEdges" />
<rect x="321" y="381" width="1" height="4" fill="#fff" shape-rendering="crispEdges" />
<rect x="323" y="381" width="1" height="4" fill="#fff" shape-rendering="crispEdges" />
<rect x="326" y="381" width="1" height="4" fill="#fff" shape-rendering="crispEdges" />
<rect x="335" y="381" width="1" height="4" fill="#fff" shape-rendering="crispEdges" />
<rect x="337" y="381" width="1" height="4" fill="#fff" shape-rendering="crispEdges" />
<rect x="339" y="381" width="1" height="4" fill="#fff" shape-rendering="crispEdges" />
<rect x="341" y="381" width="1" height="4" fill="#fff" shape-rendering="crispEdges" />
<rect x="351" y="381" width="1" height="4" fill="#fff" shape-rendering="crispEdges" />
<rect x="354" y="381" width="1" height="4" fill="#fff" shape-rendering="crispEdges" />
<rect x="357" y="381" width="1" height="4" fill="#fff" shape-rendering="crispEdges" />
<rect x="365" y="381" width="1" height="4" fill="#fff" shape-rendering="crispEdges" />
<rect x="368" y="381" width="1" height="4" fill="#fff" shape-rendering="crispEdges" />
<rect x="371" y="381" width="1" height="4" fill="#fff" shape-rendering="crispEdges" />
<rect x="381" y="381" width="1" height="4" fill="#fff" shape-rendering="crispEdges" />
<rect x="385" y="381" width="1" height="4" fill="#fff" shape-rendering="crispEdges" />
<rect x="397" y="381" width="1" height="4" fill="#fff" shape-rendering="crispEdges" />
<rect x="399" y="381" width="1" height="4" fill="#fff" shape-rendering="crispEdges" />
<rect x="401" y="381" width="1" height="4" fill="#fff" shape-rendering="crispEdges" />
<rect x="436" y="381" width="1" height="4" fill="#fff" shape-rendering="crispEdges" />
<rect x="438" y="381" width="1" height="4" fill="#fff" shape-rendering="crispEdges" />
<rect x="440" y="381" width="1" height="4" fill="#fff" shape-rendering="crispEdges" />
<rect x="450" y="381" width="1" height="4" fill="#fff" shape-rendering="crispEdges" />
<rect x="452" y="381" width="1" height="4" fill="#fff" shape-rendering="crispEdges" />
<rect x="454" y="381" width="1" height="4" fill="#fff" shape-rendering="crispEdges" />
<rect x="461" y="381" width="1" height="4" fill="#fff" shape-rendering="crispEdges" />
<rect x="462" y="381" width="1" height="4" fill="#fff" shape-rendering="crispEdges" />
<rect x="464" y="381" width="1" height="4" fill="#fff" shape-rendering="crispEdges" />
<rect x="466" y="381" width="1" height="4" fill="#fff" shape-rendering="crispEdges" />
<rect x="477" y="381" width="1" height="4" fill="#fff" shape-rendering="crispEdges" />
<rect x="480" y="381" width="1" height="4" fill="#fff" shape-rendering="crispEdges" />
<rect x="483" y="381" width="1" height="4" fill="#fff" shape-rendering="crispEdges" />
<rect x="493" y="381" width="1" height="4" fill="#fff" shape-rendering="crispEdges" />
<rect x="496" y="381" width="1" height="4" fill="#fff" shape-rendering="crispEdges" />
<rect x="500" y="381" width="1" height="4" fill="#fff" shape-rendering="crispEdges" />
<rect x="409" y="379" width="7" height="4" fill="#fff" shape-rendering="crispEdges" />
<rect x="506" y="380" width="8" height="1" fill="#000" shape-rendering="crispEdges" />
<rect x="506" y="380" width="1" height="7" fill="#000" shape-rendering="crispEdges" />
<rect x="513" y="380" width="1" height="7" fill="#000" shape-rendering="crispEdges" />
<rect x="507" y="385" width="6" height="1" fill="#000" shape-rendering="crispEdges" />
<rect x="508" y="386" width="1" height="2" fill="#000" shape-rendering="crispEdges" />
<rect x="514" y="379" width="8" height="10" fill="#000" shape-rendering="crispEdges" />
<rect x="517" y="379" width="5" height="2" fill="#fff" shape-rendering="crispEdges" />
<rect x="517" y="382" width="5" height="3" fill="#fff" shape-rendering="crispEdges" />
<rect x="517" y="386" width="5" height="3" fill="#fff" shape-rendering="crispEdges" />
<rect x="301" y="391" width="222" height="13" fill="#000" shape-rendering="crispEdges" />
<rect x="302" y="392" width="220" height="11" fill="#fff" shape-rendering="crispEdges" />
<rect x="302" y="392" width="9" height="11" fill="#000" shape-rendering="crispEdges" />
<rect x="302" y="392" width="6" height="2" fill="#fff" shape-rendering="crispEdges" />
<rect x="302" y="395" width="6" height="3" fill="#fff" shape-rendering="crispEdges" />
<rect x="302" y="399" width="6" height="4" fill="#fff" shape-rendering="crispEdges" />
<rect x="311" y="393" width="8" height="1" fill="#000" shape-rendering="crispEdges" />
<rect x="311" y="393" width="1" height="7" fill="#000" shape-rendering="crispEdges" />
<rect x="318" y="393" width="1" height="7" fill="#000" shape-rendering="crispEdges" />
<rect x="312" y="398" width="6" height="1" fill="#000" shape-rendering="crispEdges" />
<rect x="316" y="400" width="1" height="2" fill="#000" shape-rendering="crispEdges" />
<rect x="320" y="393" width="184" height="9" fill="#000" shape-rendering="crispEdges" />
<rect x="321" y="394" width="1" height="4" fill="#fff" shape-rendering="crispEdges" />
<rect x="323" y="394" width="1" height="4" fill="#fff" shape-rendering="crispEdges" />
<rect x="326" y="394" width="1" height="4" fill="#fff" shape-rendering="crispEdges" />
<rect x="335" y="394" width="1" height="4" fill="#fff" shape-rendering="crispEdges" />
<rect x="337" y="394" width="1" height="4" fill="#fff" shape-rendering="crispEdges" />
<rect x="339" y="394" width="1" height="4" fill="#fff" shape-rendering="crispEdges" />
<rect x="341" y="394" width="1" height="4" fill="#fff" shape-rendering="crispEdges" />
<rect x="351" y="394" width="1" height="4" fill="#fff" shape-rendering="crispEdges" />
<rect x="354" y="394" width="1" height="4" fill="#fff" shape-rendering="crispEdges" />
<rect x="357" y="394" width="1" height="4" fill="#fff" shape-rendering="crispEdges" />
<rect x="365" y="394" width="1" height="4" fill="#fff" shape-rendering="crispEdges" />
<rect x="368" y="394" width="1" height="4" fill="#fff" shape-rendering="crispEdges" />
<rect x="371" y="394" width="1" height="4" fill="#fff" shape-rendering="crispEdges" />
<rect x="381" y="394" width="1" height="4" fill="#fff" shape-rendering="crispEdges" />
<rect x="385" y="394" width="1" height="4" fill="#fff" shape-rendering="crispEdges" />
<rect x="397" y="394" width="1" height="4" fill="#fff" shape-rendering="crispEdges" />
<rect x="399" y="394" width="1" height="4" fill="#fff" shape-rendering="crispEdges" />
<rect x="401" y="394" width="1" height="4" fill="#fff" shape-rendering="crispEdges" />
<rect x="436" y="394" width="1" height="4" fill="#fff" shape-rendering="crispEdges" />
<rect x="438" y="394" width="1" height="4" fill="#fff" shape-rendering="crispEdges" />
<rect x="440" y="394" width="1" height="4" fill="#fff" shape-rendering="crispEdges" />
<rect x="450" y="394" width="1" height="4" fill="#fff" shape-rendering="crispEdges" />
<rect x="452" y="394" width="1" height="4" fill="#fff" shape-rendering="crispEdges" />
<rect x="454" y="394" width="1" height="4" fill="#fff" shape-rendering="crispEdges" />
<rect x="461" y="394" width="1" height="4" fill="#fff" shape-rendering="crispEdges" />
<rect x="462" y="394" width="1" height="4" fill="#fff" shape-rendering="crispEdges" />
<rect x="464" y="394" width="1" height="4" fill="#fff" shape-rendering="crispEdges" />
<rect x="466" y="394" width="1" height="4" fill="#fff" shape-rendering="crispEdges" />
<rect x="477" y="394" width="1" height="4" fill="#fff" shape-rendering="crispEdges" />
<rect x="480" y="394" width="1" height="4" fill="#fff" shape-rendering="crispEdges" />
<rect x="483" y="394" width="1" height="4" fill="#fff" shape-rendering="crispEdges" />
<rect x="493" y="394" width="1" height="4" fill="#fff" shape-rendering="crispEdges" />
<rect x="496" y="394" width="1" height="4" fill="#fff" shape-rendering="crispEdges" />
<rect x="500" y="394" width="1" height="4" fill="#fff" shape-rendering="crispEdges" />
<rect x="409" y="399" width="7" height="4" fill="#fff" shape-rendering="crispEdges" />
<rect x="506" y="393" width="8" height="1" fill="#000" shape-rendering="crispEdges" />
<rect x="506" y="393" width="1" height="7" fill="#000" shape-rendering="crispEdges" />
<rect x="513" y="393" width="1" height="7" fill="#000" shape-rendering="crispEdges" />
<rect x="507" y="398" width="6" height="1" fill="#000" shape-rendering="crispEdges" />
<rect x="508" y="399" width="1" height="3" fill="#000" shape-rendering="crispEdges" />
<rect x="514" y="392" width="8" height="11" fill="#000" shape-rendering="crispEdges" />
<rect x="517" y="392" width="5" height="2" fill="#fff" shape-rendering="crispEdges" />
<rect x="517" y="395" width="5" height="3" fill="#fff" shape-rendering="crispEdges" />
<rect x="517" y="399" width="5" height="4" fill="#fff" shape-rendering="crispEdges" />
<rect x="390.70" y="358.70" width="42.60" height="9.60" rx="1" fill="#fff" stroke="#000" stroke-width="1.4"/>
<text x="412.25" y="367.00" font-size="11" text-anchor="middle" fill="#000" font-weight="normal"   textLength="39" lengthAdjust="spacingAndGlyphs">BANK 0</text>
<rect x="390.70" y="384.70" width="42.60" height="9.60" rx="1" fill="#fff" stroke="#000" stroke-width="1.4"/>
<text x="412.25" y="394.00" font-size="11" text-anchor="middle" fill="#000" font-weight="normal"   textLength="39" lengthAdjust="spacingAndGlyphs">BANK 1</text>
<rect x="533" y="320" width="20" height="90" fill="#000" shape-rendering="crispEdges" />
<rect x="534" y="321" width="18" height="87" fill="#fff" shape-rendering="crispEdges" />
<rect x="536" y="322" width="9" height="86" fill="#000" shape-rendering="crispEdges" />
<rect x="546" y="322" width="4" height="86" fill="#000" shape-rendering="crispEdges" />
<rect x="537" y="325" width="4" height="4" fill="#fff" shape-rendering="crispEdges" />
<rect x="536" y="330" width="6" height="1" fill="#fff" shape-rendering="crispEdges" />
<rect x="542" y="326" width="3" height="1" fill="#fff" shape-rendering="crispEdges" />
<rect x="548" y="327" width="2" height="1" fill="#fff" shape-rendering="crispEdges" />
<rect x="547" y="326" width="1" height="4" fill="#fff" shape-rendering="crispEdges" />
<rect x="537" y="332" width="4" height="4" fill="#fff" shape-rendering="crispEdges" />
<rect x="536" y="338" width="6" height="1" fill="#fff" shape-rendering="crispEdges" />
<rect x="542" y="334" width="3" height="1" fill="#fff" shape-rendering="crispEdges" />
<rect x="548" y="335" width="2" height="1" fill="#fff" shape-rendering="crispEdges" />
<rect x="547" y="333" width="1" height="4" fill="#fff" shape-rendering="crispEdges" />
<rect x="537" y="340" width="4" height="4" fill="#fff" shape-rendering="crispEdges" />
<rect x="536" y="345" width="6" height="1" fill="#fff" shape-rendering="crispEdges" />
<rect x="542" y="341" width="3" height="1" fill="#fff" shape-rendering="crispEdges" />
<rect x="548" y="342" width="2" height="1" fill="#fff" shape-rendering="crispEdges" />
<rect x="547" y="340" width="1" height="5" fill="#fff" shape-rendering="crispEdges" />
<rect x="537" y="347" width="4" height="4" fill="#fff" shape-rendering="crispEdges" />
<rect x="536" y="353" width="6" height="1" fill="#fff" shape-rendering="crispEdges" />
<rect x="542" y="349" width="3" height="1" fill="#fff" shape-rendering="crispEdges" />
<rect x="548" y="350" width="2" height="1" fill="#fff" shape-rendering="crispEdges" />
<rect x="547" y="348" width="1" height="4" fill="#fff" shape-rendering="crispEdges" />
<rect x="537" y="355" width="4" height="4" fill="#fff" shape-rendering="crispEdges" />
<rect x="536" y="360" width="6" height="1" fill="#fff" shape-rendering="crispEdges" />
<rect x="542" y="356" width="3" height="1" fill="#fff" shape-rendering="crispEdges" />
<rect x="548" y="357" width="2" height="1" fill="#fff" shape-rendering="crispEdges" />
<rect x="547" y="355" width="1" height="4" fill="#fff" shape-rendering="crispEdges" />
<rect x="537" y="362" width="4" height="4" fill="#fff" shape-rendering="crispEdges" />
<rect x="536" y="368" width="6" height="1" fill="#fff" shape-rendering="crispEdges" />
<rect x="542" y="364" width="3" height="1" fill="#fff" shape-rendering="crispEdges" />
<rect x="548" y="365" width="2" height="1" fill="#fff" shape-rendering="crispEdges" />
<rect x="547" y="363" width="1" height="4" fill="#fff" shape-rendering="crispEdges" />
<rect x="537" y="370" width="4" height="4" fill="#fff" shape-rendering="crispEdges" />
<rect x="536" y="375" width="6" height="1" fill="#fff" shape-rendering="crispEdges" />
<rect x="542" y="371" width="3" height="1" fill="#fff" shape-rendering="crispEdges" />
<rect x="548" y="372" width="2" height="1" fill="#fff" shape-rendering="crispEdges" />
<rect x="547" y="370" width="1" height="4" fill="#fff" shape-rendering="crispEdges" />
<rect x="537" y="377" width="4" height="4" fill="#fff" shape-rendering="crispEdges" />
<rect x="536" y="383" width="6" height="1" fill="#fff" shape-rendering="crispEdges" />
<rect x="542" y="379" width="3" height="1" fill="#fff" shape-rendering="crispEdges" />
<rect x="548" y="380" width="2" height="1" fill="#fff" shape-rendering="crispEdges" />
<rect x="547" y="378" width="1" height="4" fill="#fff" shape-rendering="crispEdges" />
<rect x="537" y="385" width="4" height="4" fill="#fff" shape-rendering="crispEdges" />
<rect x="536" y="390" width="6" height="1" fill="#fff" shape-rendering="crispEdges" />
<rect x="542" y="386" width="3" height="1" fill="#fff" shape-rendering="crispEdges" />
<rect x="548" y="387" width="2" height="1" fill="#fff" shape-rendering="crispEdges" />
<rect x="547" y="385" width="1" height="4" fill="#fff" shape-rendering="crispEdges" />
<rect x="537" y="392" width="4" height="4" fill="#fff" shape-rendering="crispEdges" />
<rect x="536" y="398" width="6" height="1" fill="#fff" shape-rendering="crispEdges" />
<rect x="542" y="394" width="3" height="1" fill="#fff" shape-rendering="crispEdges" />
<rect x="548" y="395" width="2" height="1" fill="#fff" shape-rendering="crispEdges" />
<rect x="547" y="393" width="1" height="4" fill="#fff" shape-rendering="crispEdges" />
<rect x="537" y="400" width="4" height="4" fill="#fff" shape-rendering="crispEdges" />
<rect x="536" y="405" width="6" height="1" fill="#fff" shape-rendering="crispEdges" />
<rect x="542" y="401" width="3" height="1" fill="#fff" shape-rendering="crispEdges" />
<rect x="548" y="402" width="2" height="1" fill="#fff" shape-rendering="crispEdges" />
<rect x="547" y="400" width="1" height="4" fill="#fff" shape-rendering="crispEdges" />
<rect x="574.6" y="332.2" width="9.7" height="19.9" fill="#fff" stroke="#000" stroke-width="1"/>
<rect x="575" y="333" width="9" height="8" fill="#000" shape-rendering="crispEdges" />
<rect x="577" y="335" width="2" height="2" fill="#fff" shape-rendering="crispEdges" />
<rect x="575" y="343" width="9" height="1" fill="#000" shape-rendering="crispEdges" />
<rect x="575" y="347" width="9" height="1" fill="#000" shape-rendering="crispEdges" />
<polygon points="584.5,340.5 588,340.5 591,342 597.5,339 597.5,345 591,343.5 588,343.5 584.5,343.5" fill="#000"/>
<polygon points="567,357 583.5,357 583.5,354.5 586.5,354.5 586.5,352 591,352 591,392 586.5,392 586.5,389.5 583.5,389.5 583.5,387 567,387" fill="#000"/>
<rect x="561.8" y="364.2" width="5" height="8.6" fill="#fff" stroke="#000" stroke-width="1"/>
<rect x="561.8" y="374.2" width="5" height="6.6" fill="#fff" stroke="#000" stroke-width="1"/>
<rect x="565" y="370" width="2" height="5" fill="#000" shape-rendering="crispEdges" />
<rect x="67.00" y="11.00" width="26.00" height="13.00" rx="1.5" fill="#fff" stroke="#000" stroke-width="2"/>
<text x="80.00" y="21.00" font-size="10.5" text-anchor="middle" fill="#000" font-weight="normal"   textLength="21" lengthAdjust="spacingAndGlyphs">CN8</text>
<rect x="117.00" y="18.00" width="32.00" height="13.00" rx="1.5" fill="#fff" stroke="#000" stroke-width="2"/>
<text x="133.00" y="28.00" font-size="10.5" text-anchor="middle" fill="#000" font-weight="normal"   textLength="24" lengthAdjust="spacingAndGlyphs">JP17</text>
<rect x="79.00" y="56.00" width="32.00" height="13.00" rx="1.5" fill="#fff" stroke="#000" stroke-width="2"/>
<text x="94.65" y="66.00" font-size="10.5" text-anchor="middle" fill="#000" font-weight="normal"   textLength="24" lengthAdjust="spacingAndGlyphs">JP24</text>
<rect x="53.00" y="72.00" width="29.00" height="13.00" rx="1.5" fill="#fff" stroke="#000" stroke-width="2"/>
<text x="67.50" y="82.00" font-size="10.5" text-anchor="middle" fill="#000" font-weight="normal"   textLength="23" lengthAdjust="spacingAndGlyphs">JP23</text>
<rect x="15.00" y="91.00" width="30.00" height="12.00" rx="1.5" fill="#fff" stroke="#000" stroke-width="2"/>
<text x="30.00" y="101.00" font-size="10.5" text-anchor="middle" fill="#000" font-weight="normal"   textLength="24" lengthAdjust="spacingAndGlyphs">JP15</text>
<rect x="40.00" y="107.00" width="30.00" height="12.00" rx="1.5" fill="#fff" stroke="#000" stroke-width="2"/>
<text x="54.90" y="116.00" font-size="10.5" text-anchor="middle" fill="#000" font-weight="normal"   textLength="24" lengthAdjust="spacingAndGlyphs">JP14</text>
<rect x="80.00" y="114.00" width="31.00" height="11.00" rx="1.5" fill="#fff" stroke="#000" stroke-width="2"/>
<text x="95.25" y="123.00" font-size="10.5" text-anchor="middle" fill="#000" font-weight="normal"   textLength="24" lengthAdjust="spacingAndGlyphs">JP22</text>
<rect x="8.00" y="131.00" width="30.00" height="13.00" rx="1.5" fill="#fff" stroke="#000" stroke-width="2"/>
<text x="22.80" y="141.00" font-size="10.5" text-anchor="middle" fill="#000" font-weight="normal"   textLength="23" lengthAdjust="spacingAndGlyphs">JP21</text>
<rect x="8.00" y="168.00" width="30.00" height="12.00" rx="1.5" fill="#fff" stroke="#000" stroke-width="2"/>
<text x="22.80" y="178.00" font-size="10.5" text-anchor="middle" fill="#000" font-weight="normal"   textLength="23" lengthAdjust="spacingAndGlyphs">JP19</text>
<rect x="15.00" y="190.00" width="26.00" height="12.00" rx="1.5" fill="#fff" stroke="#000" stroke-width="2"/>
<text x="27.65" y="200.00" font-size="10.5" text-anchor="middle" fill="#000" font-weight="normal"   textLength="20" lengthAdjust="spacingAndGlyphs">VRM</text>
<rect x="81.00" y="134.00" width="28.00" height="10.00" rx="1.5" fill="#fff" stroke="#000" stroke-width="2"/>
<text x="95.05" y="143.00" font-size="10.5" text-anchor="middle" fill="#000" font-weight="normal"   textLength="23" lengthAdjust="spacingAndGlyphs">JP20</text>
<rect x="81.00" y="170.00" width="29.00" height="11.00" rx="1.5" fill="#fff" stroke="#000" stroke-width="2"/>
<text x="95.50" y="179.00" font-size="10.5" text-anchor="middle" fill="#000" font-weight="normal"   textLength="23" lengthAdjust="spacingAndGlyphs">JP18</text>
<rect x="163.00" y="34.00" width="32.00" height="13.00" rx="1.5" fill="#fff" stroke="#000" stroke-width="2"/>
<text x="179.00" y="44.00" font-size="10.5" text-anchor="middle" fill="#000" font-weight="normal"   textLength="23" lengthAdjust="spacingAndGlyphs">JP28</text>
<rect x="169.00" y="55.00" width="32.00" height="13.00" rx="1.5" fill="#fff" stroke="#000" stroke-width="2"/>
<text x="184.85" y="65.00" font-size="10.5" text-anchor="middle" fill="#000" font-weight="normal"   textLength="22" lengthAdjust="spacingAndGlyphs">JP27</text>
<rect x="151.00" y="91.00" width="30.00" height="11.00" rx="1.5" fill="#fff" stroke="#000" stroke-width="2"/>
<text x="165.85" y="100.00" font-size="10.5" text-anchor="middle" fill="#000" font-weight="normal"   textLength="23" lengthAdjust="spacingAndGlyphs">JP13</text>
<rect x="78.00" y="235.00" width="32.00" height="13.00" rx="1.5" fill="#fff" stroke="#000" stroke-width="2"/>
<text x="93.80" y="245.00" font-size="10.5" text-anchor="middle" fill="#000" font-weight="normal"   textLength="24" lengthAdjust="spacingAndGlyphs">JP30</text>
<rect x="505.00" y="154.00" width="23.00" height="12.00" rx="1.5" fill="#fff" stroke="#000" stroke-width="2"/>
<text x="516.40" y="163.00" font-size="10.5" text-anchor="middle" fill="#000" font-weight="normal"   textLength="18" lengthAdjust="spacingAndGlyphs">JP6</text>
<rect x="509.00" y="171.00" width="26.00" height="12.00" rx="1.5" fill="#fff" stroke="#000" stroke-width="2"/>
<text x="522.40" y="181.00" font-size="10.5" text-anchor="middle" fill="#000" font-weight="normal"   textLength="18" lengthAdjust="spacingAndGlyphs">JP5</text>
<rect x="505.00" y="187.00" width="23.00" height="11.00" rx="1.5" fill="#fff" stroke="#000" stroke-width="2"/>
<text x="516.40" y="196.00" font-size="10.5" text-anchor="middle" fill="#000" font-weight="normal"   textLength="18" lengthAdjust="spacingAndGlyphs">JP4</text>
<rect x="65.00" y="273.00" width="31.00" height="13.00" rx="1.5" fill="#fff" stroke="#000" stroke-width="2"/>
<text x="80.75" y="283.00" font-size="10.5" text-anchor="middle" fill="#000" font-weight="normal"   textLength="24" lengthAdjust="spacingAndGlyphs">JP16</text>
<rect x="96.00" y="287.00" width="31.00" height="13.00" rx="1.5" fill="#fff" stroke="#000" stroke-width="2"/>
<text x="111.25" y="297.00" font-size="10.5" text-anchor="middle" fill="#000" font-weight="normal"   textLength="24" lengthAdjust="spacingAndGlyphs">JP12</text>
<rect x="149.00" y="278.00" width="32.00" height="12.00" rx="1.5" fill="#fff" stroke="#000" stroke-width="2"/>
<text x="165.50" y="287.00" font-size="10.5" text-anchor="middle" fill="#000" font-weight="normal"   textLength="23" lengthAdjust="spacingAndGlyphs">JP11</text>
<rect x="210.00" y="260.00" width="22.00" height="12.00" rx="1.5" fill="#fff" stroke="#000" stroke-width="2"/>
<text x="220.80" y="270.00" font-size="10.5" text-anchor="middle" fill="#000" font-weight="normal"   textLength="18" lengthAdjust="spacingAndGlyphs">JP9</text>
<rect x="222.00" y="278.00" width="26.00" height="11.00" rx="1.5" fill="#fff" stroke="#000" stroke-width="2"/>
<text x="235.05" y="287.00" font-size="10.5" text-anchor="middle" fill="#000" font-weight="normal"   textLength="18" lengthAdjust="spacingAndGlyphs">JP8</text>
<rect x="205.00" y="296.00" width="30.00" height="12.00" rx="1.5" fill="#fff" stroke="#000" stroke-width="2"/>
<text x="220.15" y="306.00" font-size="10.5" text-anchor="middle" fill="#000" font-weight="normal"   textLength="23.5" lengthAdjust="spacingAndGlyphs">JP10</text>
<rect x="292.00" y="286.00" width="26.00" height="13.00" rx="1.5" fill="#fff" stroke="#000" stroke-width="2"/>
<text x="305.00" y="296.00" font-size="10.5" text-anchor="middle" fill="#000" font-weight="normal"   textLength="21" lengthAdjust="spacingAndGlyphs">CN5</text>
<rect x="292.00" y="305.00" width="26.00" height="13.00" rx="1.5" fill="#fff" stroke="#000" stroke-width="2"/>
<text x="305.00" y="315.00" font-size="10.5" text-anchor="middle" fill="#000" font-weight="normal"   textLength="21" lengthAdjust="spacingAndGlyphs">CN6</text>
<rect x="465.00" y="269.00" width="26.00" height="12.00" rx="1.5" fill="#fff" stroke="#000" stroke-width="2"/>
<text x="478.15" y="279.00" font-size="10.5" text-anchor="middle" fill="#000" font-weight="normal"   textLength="21" lengthAdjust="spacingAndGlyphs">CN2</text>
<rect x="522.00" y="287.00" width="26.00" height="12.00" rx="1.5" fill="#fff" stroke="#000" stroke-width="2"/>
<text x="534.95" y="297.00" font-size="10.5" text-anchor="middle" fill="#000" font-weight="normal"   textLength="21" lengthAdjust="spacingAndGlyphs">CN1</text>
<rect x="525.00" y="305.00" width="26.00" height="12.00" rx="1.5" fill="#fff" stroke="#000" stroke-width="2"/>
<text x="537.95" y="315.00" font-size="10.5" text-anchor="middle" fill="#000" font-weight="normal"   textLength="21" lengthAdjust="spacingAndGlyphs">CN3</text>
<rect x="460.00" y="346.00" width="26.00" height="12.00" rx="1.5" fill="#fff" stroke="#000" stroke-width="2"/>
<text x="473.00" y="356.00" font-size="10.5" text-anchor="middle" fill="#000" font-weight="normal"   textLength="20.5" lengthAdjust="spacingAndGlyphs">CN4</text>
<rect x="363.00" y="340.00" width="24.00" height="10.00" rx="1.5" fill="#fff" stroke="#000" stroke-width="2"/>
<text x="374.65" y="349.00" font-size="10.5" text-anchor="middle" fill="#000" font-weight="normal"   textLength="18" lengthAdjust="spacingAndGlyphs">JP1</text>
<rect x="414.00" y="335.00" width="26.00" height="12.00" rx="1.5" fill="#fff" stroke="#000" stroke-width="2"/>
<text x="427.30" y="344.00" font-size="10.5" text-anchor="middle" fill="#000" font-weight="normal"   textLength="18" lengthAdjust="spacingAndGlyphs">JP2</text>
<rect x="598.00" y="336.00" width="26.00" height="12.00" rx="1.5" fill="#fff" stroke="#000" stroke-width="2"/>
<text x="611.10" y="346.00" font-size="10.5" text-anchor="middle" fill="#000" font-weight="normal"   textLength="21" lengthAdjust="spacingAndGlyphs">CN7</text>
<rect x="163.8" y="73.3" width="29.6" height="11" rx="1.2" fill="#fff" stroke="#000" stroke-width="1.6"/>
<text x="178.60" y="82.60" font-size="9.8" text-anchor="middle" fill="#000" font-weight="normal"   textLength="23" lengthAdjust="spacingAndGlyphs">JP26</text>
<polygon points="403.20,468.60 403.09,470.95 402.75,472.95 402.18,474.83 401.39,476.62 400.37,478.34 399.14,480.01 397.68,481.61 396.01,483.16 394.12,484.66 392.03,486.10 389.72,487.48 387.21,488.80 384.51,490.07 381.61,491.27 378.52,492.41 375.24,493.49 371.78,494.49 368.15,495.44 364.35,496.31 360.38,497.11 356.24,497.84 351.95,498.50 347.49,499.08 342.88,499.59 338.10,500.02 333.15,500.37 328.00,500.65 322.61,500.84 316.86,500.96 310.10,501.00 303.34,500.96 297.59,500.84 292.20,500.65 287.05,500.37 282.10,500.02 277.32,499.59 272.71,499.08 268.25,498.50 263.96,497.84 259.82,497.11 255.85,496.31 252.05,495.44 248.42,494.49 244.96,493.49 241.68,492.41 238.59,491.27 235.69,490.07 232.99,488.80 230.48,487.48 228.17,486.10 226.08,484.66 224.19,483.16 222.52,481.61 221.06,480.01 219.83,478.34 218.81,476.62 218.02,474.83 217.45,472.95 217.11,470.95 217.00,468.60 217.11,466.25 217.45,464.25 218.02,462.37 218.81,460.58 219.83,458.86 221.06,457.19 222.52,455.59 224.19,454.04 226.08,452.54 228.17,451.10 230.48,449.72 232.99,448.40 235.69,447.13 238.59,445.93 241.68,444.79 244.96,443.71 248.42,442.71 252.05,441.76 255.85,440.89 259.82,440.09 263.96,439.36 268.25,438.70 272.71,438.12 277.32,437.61 282.10,437.18 287.05,436.83 292.20,436.55 297.59,436.36 303.34,436.24 310.10,436.20 316.86,436.24 322.61,436.36 328.00,436.55 333.15,436.83 338.10,437.18 342.88,437.61 347.49,438.12 351.95,438.70 356.24,439.36 360.38,440.09 364.35,440.89 368.15,441.76 371.78,442.71 375.24,443.71 378.52,444.79 381.61,445.93 384.51,447.13 387.21,448.40 389.72,449.72 392.03,451.10 394.12,452.54 396.01,454.04 397.68,455.59 399.14,457.19 400.37,458.86 401.39,460.58 402.18,462.37 402.75,464.25 403.09,466.25" fill="none" stroke="#000" stroke-width="1.1"/>
<text x="242.70" y="474.50" font-size="10" text-anchor="start" fill="#000" font-weight="normal"   textLength="132" lengthAdjust="spacingAndGlyphs">LOCATION UNIDENTIFIED</text>
<rect x="308" y="454" width="24" height="6" fill="#000" shape-rendering="crispEdges" />
<rect x="313" y="456" width="1" height="2" fill="#fff" shape-rendering="crispEdges" />
<rect x="317" y="456" width="1" height="2" fill="#fff" shape-rendering="crispEdges" />
<rect x="321" y="456" width="2" height="2" fill="#fff" shape-rendering="crispEdges" />
<rect x="326" y="456" width="1" height="2" fill="#fff" shape-rendering="crispEdges" />
<polygon points="295.5,452 299,455.8 308,455.8 308,458.2 299,458.2 295.5,461" fill="#000"/>
<rect x="264.00" y="450.00" width="31.00" height="12.00" rx="1.5" fill="#fff" stroke="#000" stroke-width="2"/>
<text x="279.45" y="459.00" font-size="10" text-anchor="middle" fill="#000" font-weight="normal"   textLength="20" lengthAdjust="spacingAndGlyphs">JP31</text>
</svg>
</body></html>
